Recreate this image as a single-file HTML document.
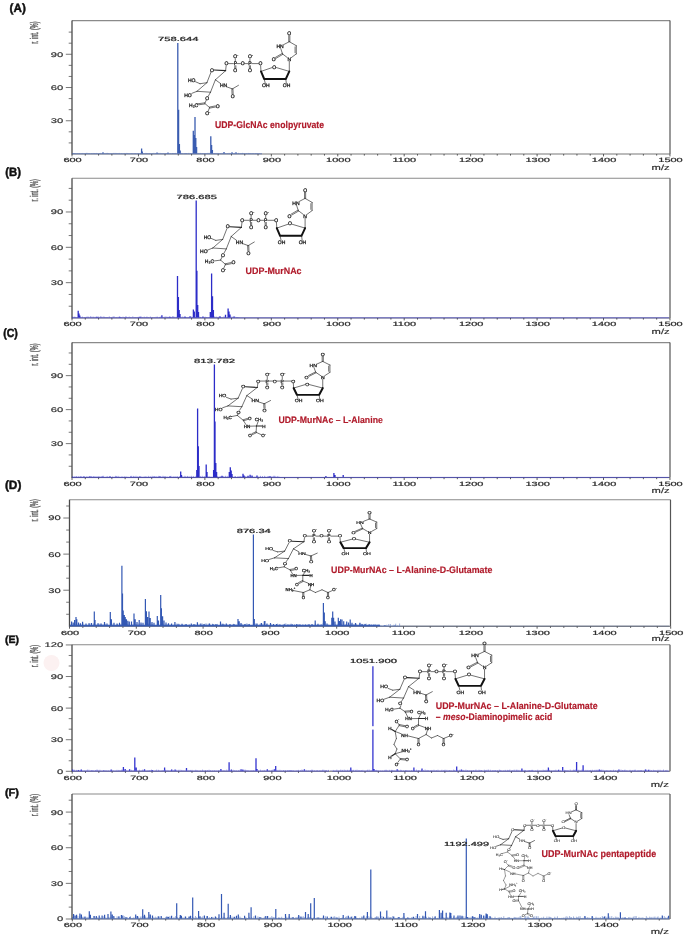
<!DOCTYPE html><html><head><meta charset="utf-8"><style>html,body{margin:0;padding:0;background:#fff;overflow:hidden;}svg{display:block;will-change:transform;}</style></head><body>
<svg width="685" height="937" viewBox="0 0 685 937" text-rendering="geometricPrecision" font-family='"Liberation Sans", sans-serif'>
<rect width="685" height="937" fill="#fff"/>
<circle cx="51.5" cy="663" r="8" fill="#fcf1f1"/>
<path d="M72.0 20.6 H670.0" fill="none" stroke="#8a8a8a" stroke-width="1.1"/>
<path d="M670.0 20.6 V154.0" fill="none" stroke="#555" stroke-width="1.2"/>
<path d="M72.0 20.6 V154.5" fill="none" stroke="#4a4a4a" stroke-width="1.3"/>
<path d="M72.0 154.0 H670.0" fill="none" stroke="#707070" stroke-width="0.95"/>
<path d="M68.7 142.92H72.0M68.7 131.84H72.0M65.8 120.76H72.0M68.7 109.68H72.0M68.7 98.60H72.0M65.8 87.52H72.0M68.7 76.44H72.0M68.7 65.36H72.0M65.8 54.28H72.0M68.7 43.20H72.0M68.7 32.12H72.0" stroke="#555" stroke-width="0.8" fill="none"/>
<text transform="translate(50.80 123.21) scale(1.1238 0.6700)" font-size="10" fill="#2e2e2e" stroke="#2e2e2e" stroke-width="0.245" stroke-linejoin="round">30</text>
<text transform="translate(50.80 89.97) scale(1.1238 0.6700)" font-size="10" fill="#2e2e2e" stroke="#2e2e2e" stroke-width="0.245" stroke-linejoin="round">60</text>
<text transform="translate(50.80 56.73) scale(1.1238 0.6700)" font-size="10" fill="#2e2e2e" stroke="#2e2e2e" stroke-width="0.245" stroke-linejoin="round">90</text>
<path d="M72.00 154.0V156.4M85.29 154.0V155.6M98.58 154.0V155.6M111.86 154.0V155.6M125.15 154.0V155.6M138.44 154.0V156.4M151.73 154.0V155.6M165.02 154.0V155.6M178.30 154.0V155.6M191.59 154.0V155.6M204.88 154.0V156.4M218.17 154.0V155.6M231.46 154.0V155.6M244.74 154.0V155.6M258.03 154.0V155.6M271.32 154.0V156.4M284.61 154.0V155.6M297.90 154.0V155.6M311.18 154.0V155.6M324.47 154.0V155.6M337.76 154.0V156.4M351.05 154.0V155.6M364.34 154.0V155.6M377.62 154.0V155.6M390.91 154.0V155.6M404.20 154.0V156.4M417.49 154.0V155.6M430.78 154.0V155.6M444.06 154.0V155.6M457.35 154.0V155.6M470.64 154.0V156.4M483.93 154.0V155.6M497.22 154.0V155.6M510.50 154.0V155.6M523.79 154.0V155.6M537.08 154.0V156.4M550.37 154.0V155.6M563.66 154.0V155.6M576.94 154.0V155.6M590.23 154.0V155.6M603.52 154.0V156.4M616.81 154.0V155.6M630.10 154.0V155.6M643.38 154.0V155.6M656.67 154.0V155.6M669.96 154.0V156.4" stroke="#4a4a4a" stroke-width="0.9" fill="none"/>
<text transform="translate(63.40 162.30) scale(1.0968 0.6100)" font-size="10" fill="#2e2e2e" stroke="#2e2e2e" stroke-width="0.352" stroke-linejoin="round">600</text>
<text transform="translate(129.84 162.30) scale(1.0968 0.6100)" font-size="10" fill="#2e2e2e" stroke="#2e2e2e" stroke-width="0.352" stroke-linejoin="round">700</text>
<text transform="translate(196.28 162.30) scale(1.0968 0.6100)" font-size="10" fill="#2e2e2e" stroke="#2e2e2e" stroke-width="0.352" stroke-linejoin="round">800</text>
<text transform="translate(262.72 162.30) scale(1.0968 0.6100)" font-size="10" fill="#2e2e2e" stroke="#2e2e2e" stroke-width="0.352" stroke-linejoin="round">900</text>
<text transform="translate(326.11 162.30) scale(1.0968 0.6100)" font-size="10" fill="#2e2e2e" stroke="#2e2e2e" stroke-width="0.352" stroke-linejoin="round">1000</text>
<text transform="translate(392.55 162.30) scale(1.0968 0.6100)" font-size="10" fill="#2e2e2e" stroke="#2e2e2e" stroke-width="0.352" stroke-linejoin="round">1100</text>
<text transform="translate(458.99 162.30) scale(1.0968 0.6100)" font-size="10" fill="#2e2e2e" stroke="#2e2e2e" stroke-width="0.352" stroke-linejoin="round">1200</text>
<text transform="translate(525.43 162.30) scale(1.0968 0.6100)" font-size="10" fill="#2e2e2e" stroke="#2e2e2e" stroke-width="0.352" stroke-linejoin="round">1300</text>
<text transform="translate(591.87 162.30) scale(1.0968 0.6100)" font-size="10" fill="#2e2e2e" stroke="#2e2e2e" stroke-width="0.352" stroke-linejoin="round">1400</text>
<text transform="translate(658.31 162.30) scale(1.0968 0.6100)" font-size="10" fill="#2e2e2e" stroke="#2e2e2e" stroke-width="0.352" stroke-linejoin="round">1500</text>
<text transform="translate(651.60 170.00) scale(1.1174 0.7600)" font-size="10" fill="#2e2e2e" stroke="#2e2e2e" stroke-width="0.266" stroke-linejoin="round">m/z</text>
<text transform="translate(38.00 43.70) rotate(-90) scale(0.5572 1.1200)" font-size="10" fill="#5a5a5a" stroke="#5a5a5a" stroke-width="0.417" stroke-linejoin="round">r. int. (%)</text>
<text transform="translate(9.60 12.20) scale(1.1742 1.2000)" font-size="10" fill="#111" font-weight="bold" stroke="#111" stroke-width="0.379" stroke-linejoin="round">(A)</text>
<path d="M72.0 178.2 H670.0" fill="none" stroke="#8a8a8a" stroke-width="1.1"/>
<path d="M670.0 178.2 V318.0" fill="none" stroke="#555" stroke-width="1.2"/>
<path d="M72.0 178.2 V318.5" fill="none" stroke="#4a4a4a" stroke-width="1.3"/>
<path d="M72.0 318.0 H670.0" fill="none" stroke="#707070" stroke-width="0.95"/>
<path d="M68.7 306.22H72.0M68.7 294.44H72.0M65.8 282.66H72.0M68.7 270.88H72.0M68.7 259.10H72.0M65.8 247.32H72.0M68.7 235.54H72.0M68.7 223.76H72.0M65.8 211.98H72.0M68.7 200.20H72.0M68.7 188.42H72.0" stroke="#555" stroke-width="0.8" fill="none"/>
<text transform="translate(50.80 285.11) scale(1.1238 0.6700)" font-size="10" fill="#2e2e2e" stroke="#2e2e2e" stroke-width="0.245" stroke-linejoin="round">30</text>
<text transform="translate(50.80 249.77) scale(1.1238 0.6700)" font-size="10" fill="#2e2e2e" stroke="#2e2e2e" stroke-width="0.245" stroke-linejoin="round">60</text>
<text transform="translate(50.80 214.43) scale(1.1238 0.6700)" font-size="10" fill="#2e2e2e" stroke="#2e2e2e" stroke-width="0.245" stroke-linejoin="round">90</text>
<path d="M72.00 318.0V320.4M85.29 318.0V319.6M98.58 318.0V319.6M111.86 318.0V319.6M125.15 318.0V319.6M138.44 318.0V320.4M151.73 318.0V319.6M165.02 318.0V319.6M178.30 318.0V319.6M191.59 318.0V319.6M204.88 318.0V320.4M218.17 318.0V319.6M231.46 318.0V319.6M244.74 318.0V319.6M258.03 318.0V319.6M271.32 318.0V320.4M284.61 318.0V319.6M297.90 318.0V319.6M311.18 318.0V319.6M324.47 318.0V319.6M337.76 318.0V320.4M351.05 318.0V319.6M364.34 318.0V319.6M377.62 318.0V319.6M390.91 318.0V319.6M404.20 318.0V320.4M417.49 318.0V319.6M430.78 318.0V319.6M444.06 318.0V319.6M457.35 318.0V319.6M470.64 318.0V320.4M483.93 318.0V319.6M497.22 318.0V319.6M510.50 318.0V319.6M523.79 318.0V319.6M537.08 318.0V320.4M550.37 318.0V319.6M563.66 318.0V319.6M576.94 318.0V319.6M590.23 318.0V319.6M603.52 318.0V320.4M616.81 318.0V319.6M630.10 318.0V319.6M643.38 318.0V319.6M656.67 318.0V319.6M669.96 318.0V320.4" stroke="#4a4a4a" stroke-width="0.9" fill="none"/>
<text transform="translate(63.40 326.30) scale(1.0968 0.6100)" font-size="10" fill="#2e2e2e" stroke="#2e2e2e" stroke-width="0.352" stroke-linejoin="round">600</text>
<text transform="translate(129.84 326.30) scale(1.0968 0.6100)" font-size="10" fill="#2e2e2e" stroke="#2e2e2e" stroke-width="0.352" stroke-linejoin="round">700</text>
<text transform="translate(196.28 326.30) scale(1.0968 0.6100)" font-size="10" fill="#2e2e2e" stroke="#2e2e2e" stroke-width="0.352" stroke-linejoin="round">800</text>
<text transform="translate(262.72 326.30) scale(1.0968 0.6100)" font-size="10" fill="#2e2e2e" stroke="#2e2e2e" stroke-width="0.352" stroke-linejoin="round">900</text>
<text transform="translate(326.11 326.30) scale(1.0968 0.6100)" font-size="10" fill="#2e2e2e" stroke="#2e2e2e" stroke-width="0.352" stroke-linejoin="round">1000</text>
<text transform="translate(392.55 326.30) scale(1.0968 0.6100)" font-size="10" fill="#2e2e2e" stroke="#2e2e2e" stroke-width="0.352" stroke-linejoin="round">1100</text>
<text transform="translate(458.99 326.30) scale(1.0968 0.6100)" font-size="10" fill="#2e2e2e" stroke="#2e2e2e" stroke-width="0.352" stroke-linejoin="round">1200</text>
<text transform="translate(525.43 326.30) scale(1.0968 0.6100)" font-size="10" fill="#2e2e2e" stroke="#2e2e2e" stroke-width="0.352" stroke-linejoin="round">1300</text>
<text transform="translate(591.87 326.30) scale(1.0968 0.6100)" font-size="10" fill="#2e2e2e" stroke="#2e2e2e" stroke-width="0.352" stroke-linejoin="round">1400</text>
<text transform="translate(658.31 326.30) scale(1.0968 0.6100)" font-size="10" fill="#2e2e2e" stroke="#2e2e2e" stroke-width="0.352" stroke-linejoin="round">1500</text>
<text transform="translate(651.60 334.00) scale(1.1174 0.7600)" font-size="10" fill="#2e2e2e" stroke="#2e2e2e" stroke-width="0.266" stroke-linejoin="round">m/z</text>
<text transform="translate(38.00 201.40) rotate(-90) scale(0.5572 1.1200)" font-size="10" fill="#5a5a5a" stroke="#5a5a5a" stroke-width="0.417" stroke-linejoin="round">r. int. (%)</text>
<text transform="translate(5.30 175.80) scale(1.1310 1.2000)" font-size="10" fill="#111" font-weight="bold" stroke="#111" stroke-width="0.386" stroke-linejoin="round">(B)</text>
<path d="M72.0 342.6 H670.0" fill="none" stroke="#8a8a8a" stroke-width="1.1"/>
<path d="M670.0 342.6 V477.6" fill="none" stroke="#555" stroke-width="1.2"/>
<path d="M72.0 342.6 V478.1" fill="none" stroke="#4a4a4a" stroke-width="1.3"/>
<path d="M72.0 477.6 H670.0" fill="none" stroke="#707070" stroke-width="0.95"/>
<path d="M68.7 466.27H72.0M68.7 454.94H72.0M65.8 443.61H72.0M68.7 432.28H72.0M68.7 420.95H72.0M65.8 409.62H72.0M68.7 398.29H72.0M68.7 386.96H72.0M65.8 375.63H72.0M68.7 364.30H72.0M68.7 352.97H72.0" stroke="#555" stroke-width="0.8" fill="none"/>
<text transform="translate(50.80 446.06) scale(1.1238 0.6700)" font-size="10" fill="#2e2e2e" stroke="#2e2e2e" stroke-width="0.245" stroke-linejoin="round">30</text>
<text transform="translate(50.80 412.07) scale(1.1238 0.6700)" font-size="10" fill="#2e2e2e" stroke="#2e2e2e" stroke-width="0.245" stroke-linejoin="round">60</text>
<text transform="translate(50.80 378.08) scale(1.1238 0.6700)" font-size="10" fill="#2e2e2e" stroke="#2e2e2e" stroke-width="0.245" stroke-linejoin="round">90</text>
<path d="M72.00 477.6V480.0M85.29 477.6V479.2M98.58 477.6V479.2M111.86 477.6V479.2M125.15 477.6V479.2M138.44 477.6V480.0M151.73 477.6V479.2M165.02 477.6V479.2M178.30 477.6V479.2M191.59 477.6V479.2M204.88 477.6V480.0M218.17 477.6V479.2M231.46 477.6V479.2M244.74 477.6V479.2M258.03 477.6V479.2M271.32 477.6V480.0M284.61 477.6V479.2M297.90 477.6V479.2M311.18 477.6V479.2M324.47 477.6V479.2M337.76 477.6V480.0M351.05 477.6V479.2M364.34 477.6V479.2M377.62 477.6V479.2M390.91 477.6V479.2M404.20 477.6V480.0M417.49 477.6V479.2M430.78 477.6V479.2M444.06 477.6V479.2M457.35 477.6V479.2M470.64 477.6V480.0M483.93 477.6V479.2M497.22 477.6V479.2M510.50 477.6V479.2M523.79 477.6V479.2M537.08 477.6V480.0M550.37 477.6V479.2M563.66 477.6V479.2M576.94 477.6V479.2M590.23 477.6V479.2M603.52 477.6V480.0M616.81 477.6V479.2M630.10 477.6V479.2M643.38 477.6V479.2M656.67 477.6V479.2M669.96 477.6V480.0" stroke="#4a4a4a" stroke-width="0.9" fill="none"/>
<text transform="translate(63.40 485.90) scale(1.0968 0.6100)" font-size="10" fill="#2e2e2e" stroke="#2e2e2e" stroke-width="0.352" stroke-linejoin="round">600</text>
<text transform="translate(129.84 485.90) scale(1.0968 0.6100)" font-size="10" fill="#2e2e2e" stroke="#2e2e2e" stroke-width="0.352" stroke-linejoin="round">700</text>
<text transform="translate(196.28 485.90) scale(1.0968 0.6100)" font-size="10" fill="#2e2e2e" stroke="#2e2e2e" stroke-width="0.352" stroke-linejoin="round">800</text>
<text transform="translate(262.72 485.90) scale(1.0968 0.6100)" font-size="10" fill="#2e2e2e" stroke="#2e2e2e" stroke-width="0.352" stroke-linejoin="round">900</text>
<text transform="translate(326.11 485.90) scale(1.0968 0.6100)" font-size="10" fill="#2e2e2e" stroke="#2e2e2e" stroke-width="0.352" stroke-linejoin="round">1000</text>
<text transform="translate(392.55 485.90) scale(1.0968 0.6100)" font-size="10" fill="#2e2e2e" stroke="#2e2e2e" stroke-width="0.352" stroke-linejoin="round">1100</text>
<text transform="translate(458.99 485.90) scale(1.0968 0.6100)" font-size="10" fill="#2e2e2e" stroke="#2e2e2e" stroke-width="0.352" stroke-linejoin="round">1200</text>
<text transform="translate(525.43 485.90) scale(1.0968 0.6100)" font-size="10" fill="#2e2e2e" stroke="#2e2e2e" stroke-width="0.352" stroke-linejoin="round">1300</text>
<text transform="translate(591.87 485.90) scale(1.0968 0.6100)" font-size="10" fill="#2e2e2e" stroke="#2e2e2e" stroke-width="0.352" stroke-linejoin="round">1400</text>
<text transform="translate(658.31 485.90) scale(1.0968 0.6100)" font-size="10" fill="#2e2e2e" stroke="#2e2e2e" stroke-width="0.352" stroke-linejoin="round">1500</text>
<text transform="translate(651.60 493.00) scale(1.1174 0.7600)" font-size="10" fill="#2e2e2e" stroke="#2e2e2e" stroke-width="0.266" stroke-linejoin="round">m/z</text>
<text transform="translate(38.00 365.80) rotate(-90) scale(0.5572 1.1200)" font-size="10" fill="#5a5a5a" stroke="#5a5a5a" stroke-width="0.417" stroke-linejoin="round">r. int. (%)</text>
<text transform="translate(3.20 337.00) scale(1.0589 1.2000)" font-size="10" fill="#111" font-weight="bold" stroke="#111" stroke-width="0.398" stroke-linejoin="round">(C)</text>
<path d="M69.5 499.7 H670.5" fill="none" stroke="#8a8a8a" stroke-width="1.1"/>
<path d="M670.5 499.7 V626.3" fill="none" stroke="#555" stroke-width="1.2"/>
<path d="M69.5 499.7 V626.8" fill="none" stroke="#4a4a4a" stroke-width="1.3"/>
<path d="M69.5 626.3 H670.5" fill="none" stroke="#707070" stroke-width="0.95"/>
<path d="M66.2 614.27H69.5M66.2 602.24H69.5M63.3 590.21H69.5M66.2 578.18H69.5M66.2 566.15H69.5M63.3 554.12H69.5M66.2 542.09H69.5M66.2 530.06H69.5M63.3 518.03H69.5M66.2 506.00H69.5" stroke="#555" stroke-width="0.8" fill="none"/>
<text transform="translate(48.30 592.66) scale(1.1238 0.6700)" font-size="10" fill="#2e2e2e" stroke="#2e2e2e" stroke-width="0.245" stroke-linejoin="round">30</text>
<text transform="translate(48.30 556.57) scale(1.1238 0.6700)" font-size="10" fill="#2e2e2e" stroke="#2e2e2e" stroke-width="0.245" stroke-linejoin="round">60</text>
<text transform="translate(48.30 520.48) scale(1.1238 0.6700)" font-size="10" fill="#2e2e2e" stroke="#2e2e2e" stroke-width="0.245" stroke-linejoin="round">90</text>
<path d="M69.50 626.3V628.7M82.86 626.3V627.9M96.22 626.3V627.9M109.58 626.3V627.9M122.94 626.3V627.9M136.30 626.3V628.7M149.66 626.3V627.9M163.02 626.3V627.9M176.38 626.3V627.9M189.74 626.3V627.9M203.10 626.3V628.7M216.46 626.3V627.9M229.82 626.3V627.9M243.18 626.3V627.9M256.54 626.3V627.9M269.90 626.3V628.7M283.26 626.3V627.9M296.62 626.3V627.9M309.98 626.3V627.9M323.34 626.3V627.9M336.70 626.3V628.7M350.06 626.3V627.9M363.42 626.3V627.9M376.78 626.3V627.9M390.14 626.3V627.9M403.50 626.3V628.7M416.86 626.3V627.9M430.22 626.3V627.9M443.58 626.3V627.9M456.94 626.3V627.9M470.30 626.3V628.7M483.66 626.3V627.9M497.02 626.3V627.9M510.38 626.3V627.9M523.74 626.3V627.9M537.10 626.3V628.7M550.46 626.3V627.9M563.82 626.3V627.9M577.18 626.3V627.9M590.54 626.3V627.9M603.90 626.3V628.7M617.26 626.3V627.9M630.62 626.3V627.9M643.98 626.3V627.9M657.34 626.3V627.9M670.70 626.3V628.7" stroke="#4a4a4a" stroke-width="0.9" fill="none"/>
<text transform="translate(60.90 634.60) scale(1.0968 0.6100)" font-size="10" fill="#2e2e2e" stroke="#2e2e2e" stroke-width="0.352" stroke-linejoin="round">600</text>
<text transform="translate(127.70 634.60) scale(1.0968 0.6100)" font-size="10" fill="#2e2e2e" stroke="#2e2e2e" stroke-width="0.352" stroke-linejoin="round">700</text>
<text transform="translate(194.50 634.60) scale(1.0968 0.6100)" font-size="10" fill="#2e2e2e" stroke="#2e2e2e" stroke-width="0.352" stroke-linejoin="round">800</text>
<text transform="translate(261.30 634.60) scale(1.0968 0.6100)" font-size="10" fill="#2e2e2e" stroke="#2e2e2e" stroke-width="0.352" stroke-linejoin="round">900</text>
<text transform="translate(325.05 634.60) scale(1.0968 0.6100)" font-size="10" fill="#2e2e2e" stroke="#2e2e2e" stroke-width="0.352" stroke-linejoin="round">1000</text>
<text transform="translate(391.85 634.60) scale(1.0968 0.6100)" font-size="10" fill="#2e2e2e" stroke="#2e2e2e" stroke-width="0.352" stroke-linejoin="round">1100</text>
<text transform="translate(458.65 634.60) scale(1.0968 0.6100)" font-size="10" fill="#2e2e2e" stroke="#2e2e2e" stroke-width="0.352" stroke-linejoin="round">1200</text>
<text transform="translate(525.45 634.60) scale(1.0968 0.6100)" font-size="10" fill="#2e2e2e" stroke="#2e2e2e" stroke-width="0.352" stroke-linejoin="round">1300</text>
<text transform="translate(592.25 634.60) scale(1.0968 0.6100)" font-size="10" fill="#2e2e2e" stroke="#2e2e2e" stroke-width="0.352" stroke-linejoin="round">1400</text>
<text transform="translate(659.05 634.60) scale(1.0968 0.6100)" font-size="10" fill="#2e2e2e" stroke="#2e2e2e" stroke-width="0.352" stroke-linejoin="round">1500</text>
<text transform="translate(651.60 641.00) scale(1.1174 0.7600)" font-size="10" fill="#2e2e2e" stroke="#2e2e2e" stroke-width="0.266" stroke-linejoin="round">m/z</text>
<text transform="translate(38.00 521.50) rotate(-90) scale(0.5572 1.1200)" font-size="10" fill="#5a5a5a" stroke="#5a5a5a" stroke-width="0.417" stroke-linejoin="round">r. int. (%)</text>
<text transform="translate(4.90 489.40) scale(1.1886 1.2000)" font-size="10" fill="#111" font-weight="bold" stroke="#111" stroke-width="0.377" stroke-linejoin="round">(D)</text>
<path d="M72.0 644.8 H670.0" fill="none" stroke="#8a8a8a" stroke-width="1.1"/>
<path d="M670.0 644.8 V771.3" fill="none" stroke="#555" stroke-width="1.2"/>
<path d="M72.0 644.8 V771.8" fill="none" stroke="#4a4a4a" stroke-width="1.3"/>
<path d="M72.0 771.3 H670.0" fill="none" stroke="#707070" stroke-width="0.95"/>
<path d="M65.8 771.30H72.0M68.7 760.77H72.0M68.7 750.24H72.0M65.8 739.71H72.0M68.7 729.18H72.0M68.7 718.65H72.0M65.8 708.12H72.0M68.7 697.59H72.0M68.7 687.06H72.0M65.8 676.53H72.0M68.7 666.00H72.0M68.7 655.47H72.0M65.8 644.94H72.0" stroke="#555" stroke-width="0.8" fill="none"/>
<text transform="translate(57.05 773.75) scale(1.1238 0.6700)" font-size="10" fill="#2e2e2e" stroke="#2e2e2e" stroke-width="0.245" stroke-linejoin="round">0</text>
<text transform="translate(50.80 742.16) scale(1.1238 0.6700)" font-size="10" fill="#2e2e2e" stroke="#2e2e2e" stroke-width="0.245" stroke-linejoin="round">30</text>
<text transform="translate(50.80 710.57) scale(1.1238 0.6700)" font-size="10" fill="#2e2e2e" stroke="#2e2e2e" stroke-width="0.245" stroke-linejoin="round">60</text>
<text transform="translate(50.80 678.98) scale(1.1238 0.6700)" font-size="10" fill="#2e2e2e" stroke="#2e2e2e" stroke-width="0.245" stroke-linejoin="round">90</text>
<text transform="translate(44.55 647.39) scale(1.1238 0.6700)" font-size="10" fill="#2e2e2e" stroke="#2e2e2e" stroke-width="0.245" stroke-linejoin="round">120</text>
<path d="M72.20 771.3V773.7M85.51 771.3V772.9M98.82 771.3V772.9M112.13 771.3V772.9M125.44 771.3V772.9M138.75 771.3V773.7M152.06 771.3V772.9M165.37 771.3V772.9M178.68 771.3V772.9M191.99 771.3V772.9M205.30 771.3V773.7M218.61 771.3V772.9M231.92 771.3V772.9M245.23 771.3V772.9M258.54 771.3V772.9M271.85 771.3V773.7M285.16 771.3V772.9M298.47 771.3V772.9M311.78 771.3V772.9M325.09 771.3V772.9M338.40 771.3V773.7M351.71 771.3V772.9M365.02 771.3V772.9M378.33 771.3V772.9M391.64 771.3V772.9M404.95 771.3V773.7M418.26 771.3V772.9M431.57 771.3V772.9M444.88 771.3V772.9M458.19 771.3V772.9M471.50 771.3V773.7M484.81 771.3V772.9M498.12 771.3V772.9M511.43 771.3V772.9M524.74 771.3V772.9M538.05 771.3V773.7M551.36 771.3V772.9M564.67 771.3V772.9M577.98 771.3V772.9M591.29 771.3V772.9M604.60 771.3V773.7M617.91 771.3V772.9M631.22 771.3V772.9M644.53 771.3V772.9M657.84 771.3V772.9" stroke="#4a4a4a" stroke-width="0.9" fill="none"/>
<text transform="translate(63.60 779.60) scale(1.0968 0.6100)" font-size="10" fill="#2e2e2e" stroke="#2e2e2e" stroke-width="0.352" stroke-linejoin="round">600</text>
<text transform="translate(130.15 779.60) scale(1.0968 0.6100)" font-size="10" fill="#2e2e2e" stroke="#2e2e2e" stroke-width="0.352" stroke-linejoin="round">700</text>
<text transform="translate(196.70 779.60) scale(1.0968 0.6100)" font-size="10" fill="#2e2e2e" stroke="#2e2e2e" stroke-width="0.352" stroke-linejoin="round">800</text>
<text transform="translate(263.25 779.60) scale(1.0968 0.6100)" font-size="10" fill="#2e2e2e" stroke="#2e2e2e" stroke-width="0.352" stroke-linejoin="round">900</text>
<text transform="translate(326.75 779.60) scale(1.0968 0.6100)" font-size="10" fill="#2e2e2e" stroke="#2e2e2e" stroke-width="0.352" stroke-linejoin="round">1000</text>
<text transform="translate(393.30 779.60) scale(1.0968 0.6100)" font-size="10" fill="#2e2e2e" stroke="#2e2e2e" stroke-width="0.352" stroke-linejoin="round">1100</text>
<text transform="translate(459.85 779.60) scale(1.0968 0.6100)" font-size="10" fill="#2e2e2e" stroke="#2e2e2e" stroke-width="0.352" stroke-linejoin="round">1200</text>
<text transform="translate(526.40 779.60) scale(1.0968 0.6100)" font-size="10" fill="#2e2e2e" stroke="#2e2e2e" stroke-width="0.352" stroke-linejoin="round">1300</text>
<text transform="translate(592.95 779.60) scale(1.0968 0.6100)" font-size="10" fill="#2e2e2e" stroke="#2e2e2e" stroke-width="0.352" stroke-linejoin="round">1400</text>
<text transform="translate(650.80 786.50) scale(1.1174 0.7600)" font-size="10" fill="#2e2e2e" stroke="#2e2e2e" stroke-width="0.266" stroke-linejoin="round">m/z</text>
<text transform="translate(38.00 667.20) rotate(-90) scale(0.5572 1.1200)" font-size="10" fill="#5a5a5a" stroke="#5a5a5a" stroke-width="0.417" stroke-linejoin="round">r. int. (%)</text>
<text transform="translate(4.90 642.90) scale(1.0503 1.0400)" font-size="10" fill="#111" font-weight="bold" stroke="#111" stroke-width="0.431" stroke-linejoin="round">(E)</text>
<path d="M72.0 794.0 H670.0" fill="none" stroke="#8a8a8a" stroke-width="1.1"/>
<path d="M670.0 794.0 V919.0" fill="none" stroke="#555" stroke-width="1.2"/>
<path d="M72.0 794.0 V919.5" fill="none" stroke="#4a4a4a" stroke-width="1.3"/>
<path d="M72.0 919.0 H670.0" fill="none" stroke="#707070" stroke-width="0.95"/>
<path d="M65.8 919.00H72.0M68.7 907.12H72.0M68.7 895.24H72.0M65.8 883.36H72.0M68.7 871.48H72.0M68.7 859.60H72.0M65.8 847.72H72.0M68.7 835.84H72.0M68.7 823.96H72.0M65.8 812.08H72.0M68.7 800.20H72.0" stroke="#555" stroke-width="0.8" fill="none"/>
<text transform="translate(57.05 921.45) scale(1.1238 0.6700)" font-size="10" fill="#2e2e2e" stroke="#2e2e2e" stroke-width="0.245" stroke-linejoin="round">0</text>
<text transform="translate(50.80 885.81) scale(1.1238 0.6700)" font-size="10" fill="#2e2e2e" stroke="#2e2e2e" stroke-width="0.245" stroke-linejoin="round">30</text>
<text transform="translate(50.80 850.17) scale(1.1238 0.6700)" font-size="10" fill="#2e2e2e" stroke="#2e2e2e" stroke-width="0.245" stroke-linejoin="round">60</text>
<text transform="translate(50.80 814.53) scale(1.1238 0.6700)" font-size="10" fill="#2e2e2e" stroke="#2e2e2e" stroke-width="0.245" stroke-linejoin="round">90</text>
<path d="M72.30 919.0V921.4M85.64 919.0V920.6M98.98 919.0V920.6M112.32 919.0V920.6M125.66 919.0V920.6M139.00 919.0V921.4M152.34 919.0V920.6M165.68 919.0V920.6M179.02 919.0V920.6M192.36 919.0V920.6M205.70 919.0V921.4M219.04 919.0V920.6M232.38 919.0V920.6M245.72 919.0V920.6M259.06 919.0V920.6M272.40 919.0V921.4M285.74 919.0V920.6M299.08 919.0V920.6M312.42 919.0V920.6M325.76 919.0V920.6M339.10 919.0V921.4M352.44 919.0V920.6M365.78 919.0V920.6M379.12 919.0V920.6M392.46 919.0V920.6M405.80 919.0V921.4M419.14 919.0V920.6M432.48 919.0V920.6M445.82 919.0V920.6M459.16 919.0V920.6M472.50 919.0V921.4M485.84 919.0V920.6M499.18 919.0V920.6M512.52 919.0V920.6M525.86 919.0V920.6M539.20 919.0V921.4M552.54 919.0V920.6M565.88 919.0V920.6M579.22 919.0V920.6M592.56 919.0V920.6M605.90 919.0V921.4M619.24 919.0V920.6M632.58 919.0V920.6M645.92 919.0V920.6M659.26 919.0V920.6" stroke="#4a4a4a" stroke-width="0.9" fill="none"/>
<text transform="translate(63.70 927.30) scale(1.0968 0.6100)" font-size="10" fill="#2e2e2e" stroke="#2e2e2e" stroke-width="0.352" stroke-linejoin="round">600</text>
<text transform="translate(130.40 927.30) scale(1.0968 0.6100)" font-size="10" fill="#2e2e2e" stroke="#2e2e2e" stroke-width="0.352" stroke-linejoin="round">700</text>
<text transform="translate(197.10 927.30) scale(1.0968 0.6100)" font-size="10" fill="#2e2e2e" stroke="#2e2e2e" stroke-width="0.352" stroke-linejoin="round">800</text>
<text transform="translate(263.80 927.30) scale(1.0968 0.6100)" font-size="10" fill="#2e2e2e" stroke="#2e2e2e" stroke-width="0.352" stroke-linejoin="round">900</text>
<text transform="translate(327.45 927.30) scale(1.0968 0.6100)" font-size="10" fill="#2e2e2e" stroke="#2e2e2e" stroke-width="0.352" stroke-linejoin="round">1000</text>
<text transform="translate(394.15 927.30) scale(1.0968 0.6100)" font-size="10" fill="#2e2e2e" stroke="#2e2e2e" stroke-width="0.352" stroke-linejoin="round">1100</text>
<text transform="translate(460.85 927.30) scale(1.0968 0.6100)" font-size="10" fill="#2e2e2e" stroke="#2e2e2e" stroke-width="0.352" stroke-linejoin="round">1200</text>
<text transform="translate(527.55 927.30) scale(1.0968 0.6100)" font-size="10" fill="#2e2e2e" stroke="#2e2e2e" stroke-width="0.352" stroke-linejoin="round">1300</text>
<text transform="translate(594.25 927.30) scale(1.0968 0.6100)" font-size="10" fill="#2e2e2e" stroke="#2e2e2e" stroke-width="0.352" stroke-linejoin="round">1400</text>
<text transform="translate(650.80 934.00) scale(1.1174 0.7600)" font-size="10" fill="#2e2e2e" stroke="#2e2e2e" stroke-width="0.266" stroke-linejoin="round">m/z</text>
<text transform="translate(38.00 816.30) rotate(-90) scale(0.5572 1.1200)" font-size="10" fill="#5a5a5a" stroke="#5a5a5a" stroke-width="0.417" stroke-linejoin="round">r. int. (%)</text>
<text transform="translate(4.90 795.60) scale(1.0964 1.0600)" font-size="10" fill="#111" font-weight="bold" stroke="#111" stroke-width="0.417" stroke-linejoin="round">(F)</text>
<path d="M72.0 153.80H262.0" stroke="#3a5cb0" stroke-width="1.0" fill="none" opacity="0.6"/>
<path d="M103.00 153.50V152.30M141.60 153.50V148.60M142.30 153.50V151.50M157.00 153.50V152.40M168.00 153.50V152.40M177.80 153.50V43.10M178.60 153.50V109.70M179.40 153.50V143.90M180.20 153.50V150.50M193.30 153.50V130.70M194.20 153.50V135.00M195.00 153.50V117.00M195.80 153.50V138.00M196.60 153.50V147.00M210.80 153.50V136.20M211.60 153.50V145.00M212.40 153.50V150.00M224.00 153.50V152.00M232.00 153.50V152.30M236.00 153.50V152.20" stroke="#3a5cb0" stroke-width="1.30" fill="none"/>
<path d="M72.50 153.50V153.09M73.58 153.50V152.97M74.57 153.50V153.01M75.91 153.50V153.18M77.42 153.50V153.19M78.84 153.50V153.18M79.84 153.50V153.05M81.74 153.50V153.16M82.91 153.50V152.98M84.94 153.50V153.00M86.32 153.50V152.86M87.27 153.50V152.90M88.52 153.50V153.15M89.56 153.50V153.09M91.44 153.50V153.14M93.04 153.50V152.98M94.39 153.50V153.01M95.36 153.50V153.18M96.51 153.50V152.96M97.92 153.50V153.09M99.53 153.50V153.04M100.79 153.50V152.92M102.52 153.50V153.11M104.11 153.50V153.02M106.06 153.50V152.94M107.31 153.50V152.86M108.35 153.50V153.05M110.16 153.50V153.15M111.65 153.50V153.19M113.35 153.50V152.93M114.94 153.50V152.89M116.21 153.50V152.96M117.83 153.50V153.00M119.27 153.50V152.91M121.31 153.50V153.03M123.00 153.50V153.18M124.75 153.50V152.97M126.84 153.50V152.91M128.08 153.50V153.06M129.78 153.50V153.19M131.23 153.50V153.14M132.28 153.50V153.18M134.10 153.50V153.15M135.29 153.50V153.06M137.24 153.50V153.17M138.68 153.50V153.01M140.64 153.50V152.91M142.58 153.50V153.10M143.97 153.50V153.07M145.94 153.50V152.86M147.02 153.50V153.14M148.19 153.50V153.12M149.68 153.50V152.99M150.89 153.50V153.20M152.29 153.50V153.07M153.87 153.50V152.87M155.60 153.50V153.02M157.24 153.50V152.96M158.21 153.50V152.89M160.04 153.50V152.89M161.90 153.50V153.06M163.28 153.50V153.16M164.94 153.50V153.18M165.92 153.50V153.13M167.02 153.50V153.08M167.98 153.50V153.20M169.06 153.50V153.16M170.40 153.50V153.19M172.35 153.50V152.99M173.43 153.50V153.11M174.74 153.50V153.07M175.79 153.50V152.90M177.88 153.50V153.04M179.36 153.50V153.17M180.39 153.50V153.08M181.60 153.50V152.91M182.70 153.50V153.19M184.74 153.50V153.02M185.81 153.50V153.01M186.75 153.50V153.02M188.82 153.50V152.90M190.56 153.50V153.11M191.90 153.50V153.14M193.72 153.50V153.01M195.56 153.50V153.08M196.72 153.50V152.92M198.81 153.50V152.90M200.67 153.50V152.91M202.46 153.50V153.12M203.98 153.50V153.08M204.92 153.50V153.19M206.15 153.50V153.11M207.88 153.50V152.87M209.32 153.50V152.87M211.41 153.50V152.87M212.74 153.50V153.12M213.92 153.50V153.13M215.06 153.50V152.98M217.04 153.50V152.91M218.52 153.50V152.97M220.38 153.50V153.17M222.07 153.50V152.88M223.91 153.50V152.94M225.38 153.50V153.14M227.23 153.50V153.08M229.09 153.50V152.86M230.46 153.50V153.06M232.50 153.50V152.95M233.61 153.50V153.16M234.69 153.50V152.88M236.55 153.50V153.15M238.45 153.50V152.86M240.13 153.50V153.08M241.69 153.50V153.15M242.61 153.50V152.86M244.29 153.50V153.02M246.31 153.50V153.05M248.26 153.50V152.91M249.41 153.50V153.11M250.66 153.50V153.12M252.26 153.50V153.11M253.67 153.50V153.15M255.66 153.50V153.08M257.11 153.50V153.00M259.09 153.50V153.05" stroke="#3a5cb0" stroke-width="0.6" fill="none" opacity="0.8"/>
<path d="M72.0 317.80H669.0" stroke="#2c2cc8" stroke-width="1.0" fill="none" opacity="0.6"/>
<path d="M78.20 317.50V310.80M79.00 317.50V313.50M79.80 317.50V315.50M97.00 317.50V316.80M120.00 317.50V316.90M140.00 317.50V316.80M161.90 317.50V315.30M170.00 317.50V316.80M177.50 317.50V276.10M178.40 317.50V297.00M179.20 317.50V310.00M180.00 317.50V314.00M185.00 317.50V316.60M190.00 317.50V316.30M193.40 317.50V309.40M194.30 317.50V311.50M196.20 317.50V200.40M196.90 317.50V270.80M197.70 317.50V305.00M198.50 317.50V312.00M203.00 317.50V316.40M210.30 317.50V312.00M211.60 317.50V273.50M212.50 317.50V296.20M213.40 317.50V310.00M220.00 317.50V316.50M225.50 317.50V314.80M228.10 317.50V308.50M229.00 317.50V311.50M230.00 317.50V314.50M234.00 317.50V316.50" stroke="#2c2cc8" stroke-width="1.30" fill="none"/>
<path d="M72.50 317.50V316.70M74.04 317.50V316.68M74.96 317.50V316.76M76.08 317.50V317.20M77.94 317.50V317.03M79.41 317.50V316.47M80.98 317.50V316.87M82.50 317.50V316.64M84.34 317.50V317.09M85.91 317.50V316.95M87.14 317.50V316.43M88.65 317.50V316.64M90.46 317.50V316.29M91.90 317.50V316.59M93.40 317.50V316.69M95.13 317.50V316.75M96.67 317.50V316.72M98.70 317.50V316.50M100.66 317.50V316.26M101.87 317.50V316.64M103.90 317.50V316.36M104.96 317.50V317.08M106.39 317.50V317.13M107.58 317.50V317.13M109.29 317.50V316.42M111.26 317.50V317.05M113.02 317.50V316.54M114.09 317.50V316.32M116.15 317.50V316.98M118.20 317.50V316.80M119.68 317.50V316.21M121.58 317.50V317.04M123.00 317.50V316.68M124.31 317.50V317.00M125.59 317.50V316.48M126.51 317.50V316.65M127.94 317.50V317.18M129.24 317.50V316.58M130.75 317.50V317.14M132.84 317.50V316.41M134.90 317.50V317.10M136.12 317.50V317.16M137.95 317.50V316.93M139.01 317.50V316.78M141.00 317.50V316.38M142.21 317.50V317.05M144.22 317.50V316.63M145.96 317.50V317.11M146.93 317.50V316.51M148.34 317.50V317.13M150.36 317.50V316.57M152.22 317.50V317.12M154.15 317.50V317.13M156.09 317.50V316.75M157.39 317.50V316.65M159.41 317.50V316.93M160.46 317.50V316.67M161.65 317.50V317.09M162.74 317.50V317.15M163.88 317.50V316.89M165.15 317.50V316.44M166.40 317.50V316.70M167.51 317.50V316.85M168.43 317.50V316.95M169.35 317.50V316.47M170.91 317.50V317.01M172.38 317.50V316.27M173.41 317.50V316.38M174.83 317.50V316.70M176.73 317.50V316.81M178.24 317.50V316.51M180.32 317.50V316.86M182.22 317.50V316.49M183.88 317.50V316.80M185.20 317.50V317.15M186.25 317.50V317.13M188.04 317.50V316.94M189.14 317.50V317.12M191.05 317.50V316.33M192.75 317.50V316.92M193.94 317.50V316.91M195.39 317.50V317.04M196.83 317.50V316.94M198.88 317.50V316.23M200.44 317.50V316.96M202.50 317.50V316.89M203.83 317.50V317.20M205.18 317.50V316.73M206.69 317.50V317.00M208.19 317.50V317.20M209.41 317.50V317.11M210.79 317.50V317.16M211.72 317.50V316.90M212.90 317.50V316.61M214.43 317.50V316.45M216.12 317.50V316.48M218.07 317.50V316.81M219.37 317.50V316.22M220.44 317.50V316.48M222.12 317.50V317.16M224.02 317.50V316.31M225.67 317.50V316.47M227.55 317.50V317.06M229.07 317.50V316.70M230.98 317.50V316.40M232.87 317.50V316.62M234.84 317.50V316.52M236.57 317.50V316.97M237.51 317.50V317.07M238.84 317.50V317.10" stroke="#2c2cc8" stroke-width="0.6" fill="none" opacity="0.8"/>
<path d="M72.0 477.40H669.0" stroke="#2c2cc8" stroke-width="1.0" fill="none" opacity="0.6"/>
<path d="M90.00 477.10V476.50M110.00 477.10V476.60M140.00 477.10V476.40M160.00 477.10V476.50M170.00 477.10V476.40M180.70 477.10V471.50M181.50 477.10V475.00M196.80 477.10V470.00M197.60 477.10V408.40M198.30 477.10V446.20M199.00 477.10V466.00M206.20 477.10V464.60M207.00 477.10V472.00M213.60 477.10V470.00M214.40 477.10V364.40M215.00 477.10V421.60M215.80 477.10V463.00M216.60 477.10V472.00M222.00 477.10V475.80M229.30 477.10V472.00M230.30 477.10V467.20M231.20 477.10V470.50M232.00 477.10V474.00M243.00 477.10V473.80M244.00 477.10V475.50M248.00 477.10V475.80M250.10 477.10V474.80M252.00 477.10V475.50M257.00 477.10V475.50M270.00 477.10V476.20M325.90 477.10V476.00M333.90 477.10V473.10M335.00 477.10V475.00M343.20 477.10V475.10" stroke="#2c2cc8" stroke-width="1.30" fill="none"/>
<path d="M72.50 477.10V476.24M74.15 477.10V476.17M75.87 477.10V476.31M76.77 477.10V476.00M78.57 477.10V476.30M80.11 477.10V476.14M81.09 477.10V476.06M82.30 477.10V476.73M83.51 477.10V476.07M84.66 477.10V476.06M86.73 477.10V476.31M88.09 477.10V476.32M89.81 477.10V476.03M91.45 477.10V476.16M92.44 477.10V476.65M93.65 477.10V476.06M94.91 477.10V476.23M95.83 477.10V476.74M97.05 477.10V476.13M98.78 477.10V476.12M100.03 477.10V476.28M101.49 477.10V476.33M102.53 477.10V475.91M103.67 477.10V475.82M105.69 477.10V476.78M107.15 477.10V475.98M109.21 477.10V476.35M110.43 477.10V476.59M112.46 477.10V476.59M114.06 477.10V476.66M115.59 477.10V475.85M116.65 477.10V475.98M118.16 477.10V475.91M119.90 477.10V476.57M121.88 477.10V476.31M122.81 477.10V476.80M124.30 477.10V476.35M125.56 477.10V476.66M126.88 477.10V476.48M128.78 477.10V476.80M130.59 477.10V475.96M131.63 477.10V475.87M133.39 477.10V475.90M134.63 477.10V476.43M136.00 477.10V475.80M137.61 477.10V476.44M139.03 477.10V476.52M139.98 477.10V476.70M141.88 477.10V476.51M143.91 477.10V476.55M145.13 477.10V476.29M146.25 477.10V476.43M148.30 477.10V475.92M150.18 477.10V476.17M152.17 477.10V475.86M153.73 477.10V476.08M154.69 477.10V476.07M156.13 477.10V476.05M157.80 477.10V476.51M158.76 477.10V475.87M159.82 477.10V476.33M161.13 477.10V476.50M162.92 477.10V475.82M164.13 477.10V476.14M165.39 477.10V476.24M166.76 477.10V476.63M167.86 477.10V476.59M169.84 477.10V476.30M171.01 477.10V475.89M173.10 477.10V476.35M174.17 477.10V476.61M175.18 477.10V476.46M176.19 477.10V476.56M177.40 477.10V476.23M179.36 477.10V476.05M180.76 477.10V476.39M182.29 477.10V476.42M183.59 477.10V476.74M184.83 477.10V475.83M185.88 477.10V476.30M187.53 477.10V475.94M188.69 477.10V476.53M189.89 477.10V476.40M191.33 477.10V475.85M193.24 477.10V475.93M194.17 477.10V476.77M195.92 477.10V475.90M197.39 477.10V476.21M198.29 477.10V476.41M200.30 477.10V475.97M202.23 477.10V475.83M203.43 477.10V476.69M204.51 477.10V476.28M206.23 477.10V475.86M208.00 477.10V476.15M209.81 477.10V476.34M211.38 477.10V476.76M213.21 477.10V476.57M215.22 477.10V476.15M216.48 477.10V476.67M217.69 477.10V476.16M219.42 477.10V476.69M220.41 477.10V476.28M222.01 477.10V476.41M223.18 477.10V476.20M224.09 477.10V476.50M225.54 477.10V475.84M227.21 477.10V475.92M228.69 477.10V476.57M229.88 477.10V475.84M231.63 477.10V476.49M232.55 477.10V476.30M234.26 477.10V476.38M235.47 477.10V476.13M237.48 477.10V476.57M238.42 477.10V476.46M239.83 477.10V476.12M240.96 477.10V476.00M242.75 477.10V476.30M243.90 477.10V475.83M245.17 477.10V475.98M246.35 477.10V476.58M248.16 477.10V476.51M250.20 477.10V476.30M251.33 477.10V476.58M252.73 477.10V476.13M254.77 477.10V476.65M256.14 477.10V476.59M258.21 477.10V476.66M259.17 477.10V476.74M260.54 477.10V475.90M262.50 477.10V476.07M264.60 477.10V475.87M265.90 477.10V476.61M267.92 477.10V476.05M268.86 477.10V476.14M270.21 477.10V476.43M271.51 477.10V476.63M272.41 477.10V476.52M273.73 477.10V475.84M274.78 477.10V475.84M275.93 477.10V476.44M277.82 477.10V475.98M279.24 477.10V476.75" stroke="#2c2cc8" stroke-width="0.6" fill="none" opacity="0.8"/>
<path d="M69.5 626.10H400.0" stroke="#3358b4" stroke-width="1.0" fill="none" opacity="0.6"/>
<path d="M70 625.50H380.0" stroke="#3358b4" stroke-width="1.6" fill="none" opacity="0.9"/>
<path d="M400 626.10H669.5" stroke="#4a5a80" stroke-width="0.9" fill="none" opacity="0.7"/>
<path d="M71.60 625.80V621.40M73.20 625.80V622.50M74.60 625.80V619.90M76.00 625.80V617.00M76.80 625.80V619.20M78.50 625.80V622.50M80.50 625.80V623.20M82.60 625.80V621.80M86.00 625.80V623.50M89.00 625.80V623.30M91.50 625.80V623.00M94.30 625.80V611.60M95.00 625.80V619.90M98.00 625.80V623.20M101.00 625.80V623.50M104.50 625.80V622.10M107.00 625.80V623.40M110.30 625.80V611.90M111.40 625.80V619.20M114.00 625.80V622.80M117.00 625.80V623.40M119.50 625.80V622.80M121.90 625.80V565.70M122.50 625.80V593.40M123.20 625.80V610.40M124.30 625.80V615.00M125.20 625.80V617.00M126.40 625.80V619.20M127.80 625.80V620.80M129.30 625.80V621.40M131.50 625.80V621.40M134.00 625.80V613.60M135.20 625.80V619.20M137.00 625.80V621.90M139.20 625.80V619.90M141.00 625.80V622.50M143.00 625.80V622.80M145.40 625.80V599.00M146.40 625.80V611.20M147.60 625.80V617.00M149.00 625.80V611.60M150.20 625.80V618.00M152.00 625.80V622.00M154.00 625.80V622.80M157.30 625.80V616.00M158.50 625.80V620.50M160.70 625.80V595.10M161.40 625.80V608.20M162.60 625.80V616.30M164.00 625.80V620.50M166.00 625.80V622.60M168.50 625.80V623.20M171.60 625.80V623.40M174.90 625.80V621.90M178.00 625.80V623.80M182.00 625.80V623.80M186.00 625.80V624.00M191.30 625.80V623.40M194.00 625.80V624.00M197.40 625.80V622.20M200.80 625.80V623.40M204.00 625.80V624.00M209.50 625.80V623.40M213.00 625.80V624.00M216.00 625.80V624.00M220.50 625.80V621.60M223.00 625.80V623.80M226.30 625.80V623.40M230.00 625.80V624.00M234.00 625.80V624.00M238.00 625.80V619.00M239.20 625.80V621.20M241.00 625.80V623.00M245.00 625.80V624.00M249.00 625.80V624.00M253.40 625.80V534.50M254.30 625.80V619.00M257.00 625.80V623.40M261.40 625.80V623.00M264.30 625.80V621.20M264.90 625.80V620.90M267.00 625.80V623.50M270.50 625.80V623.00M273.50 625.80V624.00M276.60 625.80V623.90M280.00 625.80V624.40M284.50 625.80V624.40M288.00 625.80V624.60M292.00 625.80V624.40M296.80 625.80V623.90M300.00 625.80V624.60M305.50 625.80V624.40M309.00 625.80V624.60M312.00 625.80V624.00M315.20 625.80V620.40M318.00 625.80V623.80M323.40 625.80V602.90M324.30 625.80V612.50M325.20 625.80V621.30M327.00 625.80V623.50M331.80 625.80V617.80M332.70 625.80V611.60M333.60 625.80V617.80M335.00 625.80V621.50M338.30 625.80V617.80M339.40 625.80V621.00M340.60 625.80V619.20M342.00 625.80V619.50M343.70 625.80V621.30M346.70 625.80V621.60M348.50 625.80V622.50M350.20 625.80V619.50M352.00 625.80V622.80M355.50 625.80V623.00M359.90 625.80V622.70M362.00 625.80V624.00M365.10 625.80V623.90M369.00 625.80V624.50M373.90 625.80V624.80M378.00 625.80V625.00M385.00 625.80V625.00M395.00 625.80V625.20" stroke="#3358b4" stroke-width="1.20" fill="none"/>
<path d="M70.50 625.80V624.68M72.50 625.80V625.08M73.84 625.80V623.53M74.78 625.80V624.60M76.65 625.80V623.81M77.60 625.80V625.42M78.57 625.80V623.48M79.78 625.80V623.86M81.76 625.80V624.75M82.99 625.80V623.39M84.63 625.80V624.92M86.39 625.80V624.80M87.62 625.80V625.49M89.43 625.80V623.48M91.09 625.80V623.42M92.02 625.80V624.99M93.49 625.80V623.40M95.53 625.80V624.65M96.73 625.80V624.55M98.22 625.80V623.46M99.34 625.80V623.73M101.13 625.80V623.69M102.96 625.80V624.16M104.25 625.80V624.80M105.59 625.80V623.78M106.58 625.80V625.07M108.38 625.80V624.96M109.36 625.80V625.43M110.92 625.80V624.78M113.00 625.80V623.56M115.09 625.80V624.92M116.09 625.80V625.29M117.58 625.80V623.94M119.02 625.80V624.98M120.42 625.80V624.14M122.13 625.80V623.85M124.05 625.80V624.04M125.09 625.80V623.65M126.34 625.80V624.25M127.69 625.80V623.88M128.83 625.80V624.96M130.03 625.80V625.16M131.99 625.80V624.23M133.28 625.80V624.63M135.37 625.80V624.38M136.55 625.80V623.72M138.23 625.80V623.32M139.25 625.80V624.46M141.14 625.80V623.65M143.13 625.80V625.41M144.39 625.80V625.24M145.51 625.80V623.36M147.11 625.80V623.45M148.46 625.80V623.59M149.90 625.80V624.93M151.73 625.80V623.42M152.76 625.80V624.19M154.40 625.80V625.02M155.75 625.80V625.19M156.89 625.80V624.94M158.51 625.80V624.07M159.65 625.80V625.47M160.95 625.80V624.01M162.07 625.80V624.81M163.21 625.80V623.75M164.77 625.80V625.36M165.79 625.80V624.63M167.35 625.80V624.09M168.36 625.80V625.14M170.10 625.80V624.60M171.34 625.80V624.82M173.38 625.80V624.81M174.96 625.80V624.71M176.36 625.80V623.60M178.46 625.80V624.70M179.59 625.80V623.90M180.74 625.80V625.49M182.72 625.80V624.57M184.60 625.80V624.61M186.56 625.80V624.49M187.66 625.80V625.47M189.22 625.80V624.09M191.21 625.80V625.30M192.86 625.80V624.68M194.36 625.80V625.18M195.60 625.80V624.35M197.61 625.80V625.26M199.10 625.80V623.73M201.16 625.80V625.07M202.21 625.80V623.43M204.29 625.80V624.44M205.25 625.80V623.46M206.61 625.80V623.51M208.26 625.80V623.69M209.35 625.80V623.77M210.52 625.80V624.61M212.43 625.80V623.68M213.55 625.80V625.02M214.93 625.80V624.36M216.29 625.80V625.23M217.49 625.80V623.91M219.47 625.80V625.41M221.04 625.80V623.83M221.99 625.80V623.66M223.03 625.80V624.18M224.59 625.80V624.12M225.86 625.80V624.58M227.46 625.80V624.56M229.15 625.80V624.52M230.57 625.80V625.45M232.21 625.80V624.42M233.40 625.80V623.82M235.23 625.80V624.49M236.35 625.80V624.46M237.38 625.80V625.22M238.79 625.80V625.30M240.22 625.80V624.38M241.17 625.80V624.10M242.17 625.80V623.89M244.00 625.80V624.37M244.97 625.80V624.39M246.32 625.80V623.41M247.39 625.80V623.61M249.48 625.80V623.89M251.36 625.80V625.07M253.44 625.80V624.42M255.49 625.80V623.48M256.58 625.80V623.77M258.60 625.80V625.36M259.92 625.80V623.84M261.01 625.80V623.53M262.24 625.80V623.71M263.31 625.80V624.40M265.32 625.80V625.04M266.53 625.80V624.39M267.82 625.80V625.42M268.94 625.80V625.15M270.96 625.80V624.00M272.93 625.80V625.13M274.78 625.80V625.25M276.31 625.80V624.10M277.64 625.80V623.58M279.21 625.80V624.22M281.17 625.80V625.27M283.26 625.80V624.11M284.63 625.80V623.75M285.85 625.80V623.32M287.44 625.80V624.71M289.26 625.80V624.53M290.37 625.80V623.86M291.33 625.80V623.70M292.54 625.80V624.09M294.62 625.80V624.21M296.31 625.80V624.81M297.22 625.80V625.43M298.29 625.80V624.14M299.71 625.80V624.37M301.69 625.80V625.21M302.86 625.80V624.06M303.79 625.80V625.49M305.11 625.80V625.27M306.44 625.80V625.01M308.04 625.80V624.20M309.19 625.80V624.13M310.66 625.80V625.20M312.68 625.80V624.96M313.76 625.80V625.29M315.43 625.80V623.58M317.27 625.80V624.62M318.48 625.80V625.47M320.16 625.80V624.26M321.48 625.80V624.08M322.91 625.80V623.44M324.69 625.80V624.95M326.67 625.80V625.40M328.21 625.80V624.61M329.40 625.80V625.37M331.23 625.80V625.47M332.79 625.80V623.43M333.86 625.80V625.06M335.49 625.80V624.38M337.16 625.80V623.71M338.27 625.80V624.82M339.53 625.80V625.39M341.50 625.80V623.78M343.26 625.80V625.49M345.17 625.80V623.86M346.63 625.80V623.87M348.07 625.80V625.00M349.10 625.80V624.99M350.05 625.80V624.76M351.85 625.80V623.97M353.76 625.80V623.93M354.98 625.80V624.28M356.40 625.80V623.77M357.93 625.80V624.92M359.60 625.80V623.38M360.76 625.80V623.56M361.68 625.80V624.93M362.86 625.80V623.86M364.90 625.80V623.86M366.19 625.80V623.56M367.48 625.80V624.97M369.47 625.80V624.11M371.20 625.80V624.04M373.28 625.80V624.47M375.19 625.80V623.97M377.11 625.80V624.54M378.88 625.80V624.25M380.15 625.80V625.03M381.80 625.80V625.33M383.79 625.80V625.18M384.73 625.80V625.27M386.74 625.80V624.74M387.81 625.80V625.44M388.76 625.80V623.98M390.42 625.80V623.97M392.21 625.80V625.36M393.81 625.80V624.70M395.70 625.80V623.70M397.66 625.80V625.35M399.61 625.80V623.49" stroke="#3358b4" stroke-width="0.6" fill="none" opacity="0.8"/>
<path d="M72.0 771.10H329M332.4 771.10H669.0" stroke="#3434d0" stroke-width="1.0" fill="none" opacity="0.6"/>
<path d="M72.60 770.80V769.60M78.40 770.80V770.10M81.40 770.80V769.60M91.90 770.80V770.50M104.20 770.80V770.50M111.20 770.80V769.60M123.40 770.80V767.00M125.20 770.80V768.90M129.60 770.80V769.30M134.80 770.80V757.40M136.20 770.80V767.50M144.50 770.80V769.30M152.30 770.80V770.10M164.60 770.80V767.50M171.60 770.80V769.60M175.10 770.80V769.60M186.50 770.80V767.90M220.90 770.80V768.90M229.10 770.80V762.30M231.40 770.80V769.60M241.10 770.80V769.30M242.80 770.80V769.60M256.00 770.80V758.20M257.00 770.80V769.00M267.30 770.80V769.30M274.30 770.80V769.30M275.70 770.80V766.10M304.40 770.80V769.30M350.80 770.80V767.50M372.90 770.80V666.30M374.00 770.80V769.00M397.20 770.80V769.30M413.90 770.80V767.50M422.00 770.80V768.40M456.70 770.80V766.60M461.40 770.80V769.60M521.90 770.80V768.40M548.40 770.80V767.40M558.60 770.80V769.80M562.70 770.80V767.00M576.60 770.80V761.90M583.10 770.80V765.30M599.50 770.80V769.40M618.90 770.80V769.40M645.50 770.80V769.40M648.50 770.80V769.80" stroke="#3434d0" stroke-width="1.30" fill="none"/>
<path d="M72.50 770.80V770.40M73.65 770.80V770.40M74.59 770.80V769.74M76.46 770.80V769.93M78.35 770.80V769.93M79.60 770.80V770.41M80.61 770.80V769.82M81.76 770.80V770.21M83.17 770.80V770.48M84.38 770.80V770.25M86.14 770.80V770.17M87.42 770.80V769.63M88.93 770.80V769.73M90.57 770.80V770.47M91.96 770.80V770.11M93.79 770.80V770.19M95.54 770.80V770.02M96.70 770.80V769.72M97.71 770.80V769.76M98.81 770.80V770.50M99.95 770.80V769.81M102.03 770.80V770.50M103.51 770.80V770.06M105.37 770.80V770.33M106.86 770.80V770.19M108.76 770.80V770.27M110.80 770.80V770.24M111.95 770.80V769.87M113.45 770.80V770.40M115.11 770.80V770.43M116.96 770.80V769.87M118.80 770.80V769.93M120.13 770.80V770.14M121.50 770.80V769.70M122.51 770.80V769.70M123.44 770.80V770.31M124.65 770.80V769.69M126.16 770.80V770.16M128.12 770.80V770.29M129.57 770.80V770.02M131.37 770.80V769.82M133.05 770.80V770.19M134.34 770.80V770.36M136.25 770.80V769.90M138.04 770.80V770.35M139.47 770.80V769.80M141.07 770.80V770.39M142.52 770.80V769.70M143.71 770.80V770.33M144.97 770.80V769.87M146.88 770.80V770.36M147.97 770.80V770.28M149.26 770.80V770.03M150.35 770.80V770.20M151.48 770.80V769.62M153.25 770.80V770.41M155.31 770.80V770.41M156.67 770.80V769.61M158.52 770.80V769.84M159.95 770.80V770.32M161.61 770.80V770.40M162.76 770.80V770.15M163.70 770.80V770.14M165.55 770.80V769.88M167.05 770.80V769.93M168.51 770.80V770.37M170.13 770.80V770.14M171.92 770.80V769.68M173.34 770.80V769.98M175.13 770.80V770.12M176.31 770.80V769.85M178.26 770.80V769.80M180.00 770.80V769.73M181.72 770.80V769.92M183.16 770.80V770.22M184.82 770.80V770.41M186.22 770.80V769.80M187.98 770.80V769.93M189.18 770.80V770.12M190.62 770.80V769.94M192.02 770.80V769.89M194.03 770.80V770.34M195.72 770.80V769.80M197.08 770.80V770.06M199.15 770.80V770.47M200.71 770.80V770.36M202.54 770.80V769.65M204.07 770.80V770.41M205.66 770.80V770.01M207.42 770.80V770.04M209.08 770.80V769.75M210.61 770.80V770.13M212.65 770.80V770.31M214.37 770.80V770.15M216.18 770.80V770.39M218.27 770.80V770.18M219.23 770.80V770.25M220.61 770.80V770.49M222.02 770.80V770.12M223.75 770.80V770.18M224.97 770.80V770.30M226.76 770.80V769.65M228.29 770.80V770.30M230.16 770.80V770.15M231.31 770.80V770.38M233.14 770.80V769.77M234.80 770.80V770.08M236.38 770.80V770.30M238.43 770.80V770.18M240.10 770.80V769.76M241.98 770.80V770.08M243.23 770.80V770.01M244.28 770.80V769.75M245.61 770.80V769.73M246.83 770.80V770.16M248.03 770.80V770.12M249.16 770.80V770.50M250.92 770.80V770.25M252.12 770.80V770.23M253.59 770.80V770.11M255.26 770.80V769.91M256.59 770.80V769.66M258.52 770.80V770.45M260.41 770.80V769.68M262.25 770.80V770.37M264.15 770.80V769.93M265.07 770.80V770.49M267.11 770.80V769.91M268.31 770.80V770.41M269.38 770.80V770.29M271.21 770.80V770.19M272.30 770.80V769.69M274.15 770.80V770.35M276.12 770.80V769.95M277.95 770.80V769.90M279.93 770.80V769.79M281.83 770.80V770.32M283.56 770.80V770.02M285.35 770.80V770.11M287.31 770.80V770.00M288.53 770.80V770.29M289.60 770.80V770.06M290.57 770.80V770.08M291.64 770.80V770.06M293.14 770.80V770.01M295.07 770.80V770.49M296.98 770.80V770.08M298.56 770.80V769.90M300.47 770.80V770.16M301.87 770.80V769.64M302.86 770.80V769.93M304.52 770.80V770.47M306.15 770.80V769.89M308.17 770.80V770.20M310.25 770.80V770.04M311.73 770.80V769.69M312.67 770.80V769.85M314.32 770.80V770.20M316.26 770.80V770.17M317.73 770.80V770.03M319.55 770.80V770.31M320.97 770.80V770.12M322.54 770.80V769.76M323.79 770.80V769.76M325.17 770.80V770.05M326.40 770.80V770.04M328.47 770.80V769.91M330.32 770.80V770.20M331.60 770.80V770.23M333.21 770.80V769.93M335.05 770.80V770.46M336.81 770.80V769.70M338.37 770.80V770.46M339.63 770.80V770.49M340.76 770.80V769.67M342.39 770.80V769.91M344.23 770.80V769.68M345.87 770.80V769.94M347.52 770.80V769.87M349.14 770.80V769.89M350.29 770.80V769.90M351.74 770.80V769.81M352.76 770.80V770.34M353.71 770.80V769.80M355.70 770.80V769.91M357.05 770.80V769.76M358.89 770.80V769.99M360.10 770.80V770.23M361.50 770.80V770.21M362.92 770.80V769.92M364.94 770.80V770.45M366.52 770.80V770.46M367.57 770.80V769.77M369.16 770.80V769.67M370.59 770.80V770.49M371.96 770.80V769.97M373.98 770.80V769.62M375.45 770.80V770.13M376.47 770.80V769.92M377.63 770.80V770.36M378.55 770.80V770.50M380.27 770.80V770.39M382.33 770.80V770.42M384.27 770.80V770.38M385.19 770.80V769.85M386.38 770.80V769.84M387.51 770.80V770.45M389.34 770.80V769.86M391.26 770.80V769.84M392.27 770.80V769.93M394.02 770.80V770.09M396.04 770.80V770.27M398.09 770.80V769.85M399.01 770.80V770.49M400.69 770.80V769.76M401.68 770.80V770.22M403.46 770.80V770.35M405.39 770.80V770.06M406.36 770.80V770.17M407.95 770.80V770.11M409.67 770.80V770.37M411.52 770.80V770.17M413.20 770.80V769.93M414.60 770.80V770.15M416.44 770.80V769.65M418.28 770.80V769.99M419.53 770.80V770.45M421.60 770.80V769.87M423.49 770.80V770.20M425.12 770.80V769.62M427.02 770.80V769.96M428.29 770.80V770.11M430.26 770.80V770.16M431.98 770.80V769.96M433.95 770.80V769.77M435.19 770.80V770.50M436.41 770.80V770.12M438.01 770.80V769.77M439.98 770.80V770.46M441.88 770.80V769.77M443.82 770.80V769.99M445.05 770.80V769.73M446.91 770.80V769.88M448.91 770.80V770.19M449.91 770.80V770.00M451.77 770.80V770.32M453.57 770.80V769.66M454.75 770.80V769.95M456.46 770.80V770.08M457.61 770.80V770.27M459.41 770.80V769.79M460.87 770.80V770.42M462.73 770.80V769.81M463.91 770.80V769.98M465.89 770.80V769.70M467.42 770.80V770.07M469.02 770.80V770.33M470.15 770.80V770.34M471.89 770.80V770.17M473.47 770.80V770.14M474.99 770.80V770.37M475.95 770.80V769.60M477.29 770.80V770.40M478.95 770.80V769.79M480.04 770.80V769.96M481.36 770.80V770.03M482.28 770.80V770.47M484.37 770.80V769.72M485.85 770.80V769.99M487.07 770.80V769.80M488.48 770.80V769.65M490.30 770.80V769.76M492.35 770.80V770.27M493.30 770.80V770.32M494.42 770.80V770.42M495.38 770.80V770.00M497.32 770.80V770.09M499.36 770.80V769.68M500.34 770.80V769.96M501.71 770.80V770.39M503.76 770.80V770.27M505.34 770.80V769.92M507.39 770.80V769.90M508.76 770.80V770.10M509.85 770.80V769.63M511.94 770.80V770.30M512.89 770.80V770.27M514.21 770.80V769.69M516.20 770.80V769.75M517.15 770.80V769.79M518.90 770.80V769.92M520.99 770.80V770.45M522.06 770.80V769.82M524.09 770.80V769.89M525.35 770.80V769.97M527.16 770.80V770.41M528.45 770.80V770.27M529.49 770.80V770.07M530.60 770.80V770.29M531.67 770.80V769.89M532.58 770.80V769.85M533.72 770.80V770.47M535.73 770.80V770.30M537.75 770.80V769.72M539.72 770.80V770.37M541.15 770.80V770.41M543.17 770.80V769.74M544.82 770.80V770.09M546.13 770.80V769.76M547.60 770.80V769.93M548.68 770.80V770.30M549.64 770.80V769.86M551.21 770.80V770.37M553.15 770.80V770.26M554.55 770.80V770.36M555.77 770.80V769.74M557.07 770.80V770.35M558.56 770.80V770.21M560.55 770.80V770.40M562.62 770.80V770.45M564.59 770.80V769.90M565.75 770.80V770.07M566.99 770.80V770.27M568.13 770.80V770.17M570.22 770.80V769.60M572.23 770.80V770.41M573.48 770.80V769.69M574.45 770.80V769.85M575.70 770.80V769.62M576.62 770.80V769.77M577.93 770.80V770.37M578.83 770.80V769.75M580.36 770.80V770.33M581.79 770.80V769.68M582.95 770.80V769.99M584.01 770.80V770.34M585.84 770.80V769.86M586.97 770.80V770.43M587.98 770.80V769.95M589.47 770.80V770.25M590.62 770.80V769.95M592.37 770.80V769.77M593.97 770.80V770.32M594.95 770.80V769.84M596.34 770.80V769.85M597.30 770.80V769.77M598.61 770.80V769.74M600.54 770.80V770.06M601.46 770.80V769.68M602.93 770.80V769.72M604.15 770.80V770.33M606.05 770.80V770.17M607.15 770.80V770.17M608.76 770.80V770.50M610.29 770.80V770.10M611.80 770.80V770.39M613.56 770.80V769.77M615.50 770.80V770.21M617.25 770.80V770.16M619.06 770.80V770.44M621.00 770.80V769.64M622.50 770.80V770.04M624.03 770.80V770.02M624.96 770.80V769.63M626.13 770.80V770.34M627.15 770.80V770.27M629.03 770.80V770.47M630.05 770.80V769.87M631.18 770.80V770.48M632.80 770.80V769.98M634.33 770.80V769.87M635.35 770.80V769.72M637.11 770.80V770.46M638.16 770.80V770.06M639.66 770.80V770.25M640.71 770.80V770.13M641.77 770.80V769.97M643.70 770.80V770.37M645.29 770.80V769.83M646.39 770.80V769.76M648.41 770.80V770.15M649.82 770.80V769.74M651.35 770.80V770.14M653.38 770.80V769.80M654.68 770.80V770.28M655.99 770.80V770.11M658.06 770.80V769.78M660.06 770.80V769.77M661.98 770.80V770.45M663.50 770.80V769.64M665.52 770.80V770.28M666.93 770.80V769.93" stroke="#3434d0" stroke-width="0.6" fill="none" opacity="0.8"/>
<path d="M72.0 918.80H669.0" stroke="#3358b4" stroke-width="1.0" fill="none" opacity="0.6"/>
<path d="M73.60 918.50V914.10M75.10 918.50V915.50M76.60 918.50V914.80M79.90 918.50V913.40M81.40 918.50V914.50M85.00 918.50V916.50M89.30 918.50V911.20M90.40 918.50V914.80M94.10 918.50V916.00M96.30 918.50V916.00M99.20 918.50V915.50M102.10 918.50V915.50M104.60 918.50V914.80M108.00 918.50V914.10M110.90 918.50V911.60M112.30 918.50V914.50M113.80 918.50V916.00M118.90 918.50V916.30M121.40 918.50V915.10M122.80 918.50V915.50M126.00 918.50V917.00M129.90 918.50V917.00M135.70 918.50V914.50M137.40 918.50V916.00M142.70 918.50V909.30M144.50 918.50V914.80M148.80 918.50V911.90M150.30 918.50V914.50M152.50 918.50V915.50M158.30 918.50V916.30M161.20 918.50V916.00M167.10 918.50V917.00M168.60 918.50V917.10M171.60 918.50V915.70M176.70 918.50V903.20M180.30 918.50V914.90M181.40 918.50V915.70M185.40 918.50V916.40M189.10 918.50V916.40M190.50 918.50V915.70M192.70 918.50V897.40M198.60 918.50V911.00M200.00 918.50V916.40M204.40 918.50V915.40M207.30 918.50V916.10M211.70 918.50V917.10M215.40 918.50V916.40M219.00 918.50V914.20M221.50 918.50V894.10M224.10 918.50V912.70M228.20 918.50V903.70M230.40 918.50V914.90M234.30 918.50V916.80M236.50 918.50V915.70M238.30 918.50V914.50M244.60 918.50V915.70M248.90 918.50V912.70M251.10 918.50V907.20M255.50 918.50V915.40M260.00 918.50V917.00M265.80 918.50V916.00M267.60 918.50V916.00M275.80 918.50V909.10M279.00 918.50V917.80M285.50 918.50V913.90M289.20 918.50V913.90M293.00 918.50V917.00M298.70 918.50V914.90M300.90 918.50V916.40M305.50 918.50V912.00M308.20 918.50V913.90M310.70 918.50V903.20M314.30 918.50V898.10M318.00 918.50V917.50M323.50 918.50V915.40M327.20 918.50V916.40M331.50 918.50V916.80M337.00 918.50V917.50M343.20 918.50V914.90M348.30 918.50V915.70M351.20 918.50V916.80M354.90 918.50V916.10M355.70 918.50V916.40M363.80 918.50V915.40M367.40 918.50V912.00M370.80 918.50V869.40M376.00 918.50V917.50M380.50 918.50V911.60M383.50 918.50V916.80M386.80 918.50V910.50M390.00 918.50V917.50M393.70 918.50V916.40M398.80 918.50V917.10M403.90 918.50V913.00M408.00 918.50V917.60M413.40 918.50V916.80M417.50 918.50V913.90M422.90 918.50V915.70M425.50 918.50V911.30M430.00 918.50V917.50M435.00 918.50V916.40M439.40 918.50V910.10M441.10 918.50V912.70M442.60 918.50V910.50M446.20 918.50V912.70M449.90 918.50V912.40M450.80 918.50V913.10M454.00 918.50V915.50M458.00 918.50V915.50M460.00 918.50V915.50M462.00 918.50V915.80M466.30 918.50V838.50M467.30 918.50V917.10M472.50 918.50V916.30M474.10 918.50V917.10M479.70 918.50V913.90M481.30 918.50V914.70M483.70 918.50V915.50M486.10 918.50V913.60M487.30 918.50V914.20M490.10 918.50V916.30M584.90 918.50V916.10M592.20 918.50V916.10M604.50 918.50V916.60M608.30 918.50V913.20M620.40 918.50V912.30M625.00 918.50V917.50M662.30 918.50V915.40M668.60 918.50V915.70" stroke="#3358b4" stroke-width="1.20" fill="none"/>
<path d="M72.50 918.50V917.03M73.48 918.50V917.25M74.99 918.50V918.15M76.06 918.50V916.07M77.89 918.50V916.14M79.55 918.50V916.42M81.51 918.50V916.25M82.45 918.50V916.79M83.67 918.50V916.71M84.90 918.50V917.01M86.91 918.50V916.83M88.11 918.50V917.06M89.53 918.50V916.11M90.77 918.50V917.53M92.45 918.50V917.94M94.06 918.50V916.10M95.58 918.50V917.61M97.04 918.50V917.03M98.12 918.50V917.93M99.17 918.50V917.55M100.56 918.50V917.57M101.75 918.50V918.01M103.31 918.50V916.35M104.94 918.50V916.95M106.62 918.50V917.76M108.38 918.50V917.19M109.93 918.50V916.85M111.40 918.50V917.52M112.59 918.50V917.71M114.10 918.50V917.36M115.70 918.50V918.17M117.03 918.50V916.30M118.21 918.50V916.98M119.70 918.50V917.57M121.79 918.50V917.55M123.61 918.50V917.85M124.60 918.50V916.28M126.02 918.50V918.06M127.39 918.50V917.23M129.17 918.50V917.96M130.34 918.50V916.09M132.13 918.50V917.86M133.43 918.50V917.42M135.14 918.50V916.84M137.06 918.50V916.39M138.58 918.50V916.57M140.38 918.50V916.53M141.85 918.50V916.47M143.60 918.50V916.19M144.65 918.50V916.28M145.55 918.50V916.52M147.16 918.50V917.10M149.21 918.50V916.94M150.61 918.50V916.48M152.56 918.50V916.86M153.92 918.50V917.20M155.37 918.50V916.61M156.62 918.50V917.34M158.18 918.50V917.35M159.47 918.50V916.47M161.39 918.50V917.10M162.82 918.50V917.79M164.09 918.50V917.88M165.68 918.50V916.92M166.68 918.50V916.18M167.97 918.50V916.34M169.88 918.50V916.09M171.02 918.50V917.26M173.02 918.50V918.18M173.97 918.50V916.96M175.47 918.50V916.18M177.30 918.50V917.02M179.40 918.50V917.06M180.92 918.50V916.69M182.28 918.50V917.41M183.90 918.50V917.43M185.94 918.50V916.71M187.47 918.50V917.98M188.81 918.50V917.32M190.39 918.50V916.94M192.34 918.50V916.08M193.83 918.50V917.23M195.48 918.50V916.01M196.79 918.50V917.03M198.67 918.50V917.82M199.95 918.50V916.05M201.84 918.50V917.07M202.87 918.50V916.23M204.60 918.50V916.39M206.69 918.50V916.25M208.10 918.50V917.86M209.34 918.50V917.07M210.85 918.50V917.79M211.97 918.50V916.81M213.59 918.50V917.42M215.68 918.50V916.80M216.64 918.50V917.29M218.48 918.50V917.53M220.21 918.50V918.19M221.47 918.50V916.35M223.08 918.50V916.73M224.21 918.50V917.10M225.78 918.50V917.61M227.45 918.50V917.03M229.55 918.50V916.94M230.94 918.50V917.93M232.03 918.50V916.53M233.06 918.50V917.98M234.16 918.50V917.05M236.05 918.50V916.85M237.92 918.50V918.06M238.84 918.50V916.50M240.12 918.50V916.63M241.45 918.50V917.83M242.67 918.50V917.98M244.65 918.50V916.92M245.97 918.50V917.21M247.33 918.50V918.08M249.30 918.50V916.92M251.35 918.50V917.23M253.00 918.50V917.65M253.95 918.50V916.15M255.88 918.50V917.51M257.85 918.50V916.41M259.12 918.50V916.87M261.17 918.50V917.11M263.21 918.50V917.67M264.58 918.50V916.62M265.74 918.50V917.52M267.69 918.50V917.13M269.55 918.50V917.66M270.65 918.50V917.41M271.78 918.50V916.06M273.03 918.50V916.96M274.06 918.50V917.03M275.43 918.50V917.31M276.41 918.50V917.93M278.30 918.50V917.43M279.49 918.50V917.78M280.73 918.50V917.68M281.67 918.50V916.74M282.98 918.50V917.86M284.73 918.50V918.00M285.95 918.50V916.36M287.01 918.50V917.22M288.91 918.50V916.43M290.00 918.50V917.42M291.77 918.50V917.37M293.82 918.50V917.74M295.86 918.50V917.09M297.03 918.50V917.20M298.09 918.50V916.65M299.30 918.50V916.22M300.91 918.50V917.39M302.10 918.50V916.86M303.26 918.50V916.28M304.31 918.50V917.07M305.86 918.50V917.61M307.68 918.50V917.35M309.37 918.50V916.95M310.64 918.50V917.34M311.65 918.50V917.81M313.57 918.50V917.49M315.26 918.50V917.96M316.84 918.50V917.40M318.34 918.50V917.55M319.32 918.50V917.52M320.49 918.50V917.92M322.25 918.50V917.58M323.63 918.50V916.20M325.46 918.50V916.26M327.40 918.50V917.91M328.63 918.50V918.13M330.34 918.50V916.74M331.67 918.50V917.29M333.36 918.50V916.66M334.56 918.50V916.34M335.88 918.50V916.82M337.00 918.50V917.95M338.99 918.50V916.59M340.75 918.50V918.11M341.69 918.50V917.84M342.83 918.50V917.53M344.19 918.50V918.11M345.46 918.50V916.80M346.58 918.50V916.35M348.16 918.50V916.62M349.37 918.50V917.24M351.09 918.50V917.43M351.99 918.50V916.36M353.82 918.50V917.57M354.77 918.50V916.32M356.40 918.50V918.10M357.60 918.50V917.96M359.45 918.50V917.74M361.44 918.50V916.55M362.45 918.50V916.67M363.82 918.50V916.56M365.71 918.50V917.58M366.72 918.50V916.12M368.13 918.50V916.15M369.86 918.50V916.58M371.76 918.50V916.82M373.20 918.50V918.08M374.94 918.50V917.26M376.45 918.50V916.16M377.50 918.50V916.52M378.46 918.50V916.65M380.32 918.50V917.63M381.88 918.50V916.07M383.54 918.50V917.00M384.74 918.50V918.07M386.07 918.50V917.29M387.21 918.50V917.52M388.28 918.50V916.64M389.98 918.50V917.68M391.17 918.50V917.07M392.61 918.50V916.14M393.93 918.50V917.54M395.89 918.50V917.89M397.47 918.50V917.47M399.34 918.50V916.99M401.16 918.50V917.83M402.86 918.50V916.88M404.31 918.50V916.51M406.21 918.50V917.95M407.46 918.50V917.41M408.60 918.50V918.07M409.84 918.50V917.77M411.58 918.50V917.21M412.62 918.50V917.49M414.08 918.50V917.40M415.18 918.50V918.04M416.09 918.50V916.02M417.90 918.50V918.02M419.66 918.50V916.04M421.23 918.50V917.96M422.72 918.50V917.24M423.85 918.50V917.01M424.76 918.50V916.18M426.43 918.50V916.82M428.45 918.50V916.76M429.65 918.50V917.66M430.72 918.50V918.14M432.55 918.50V916.35M433.81 918.50V917.79M435.47 918.50V916.34M437.48 918.50V917.83M439.32 918.50V916.37M441.12 918.50V917.48M442.24 918.50V916.38M443.52 918.50V917.39M445.08 918.50V917.39M446.98 918.50V917.67M447.93 918.50V916.95M449.58 918.50V916.40M451.33 918.50V916.21M453.36 918.50V917.11M454.86 918.50V917.85M456.12 918.50V916.92M457.12 918.50V916.69M458.22 918.50V917.22M460.28 918.50V918.00M461.23 918.50V917.23M462.36 918.50V916.61M463.26 918.50V916.35M465.19 918.50V916.47M466.60 918.50V917.58M468.29 918.50V917.07M469.70 918.50V917.45M471.12 918.50V916.73M473.01 918.50V916.21M474.11 918.50V917.55M475.54 918.50V916.96M476.86 918.50V917.77M477.86 918.50V917.49M479.32 918.50V916.06M481.31 918.50V916.30M483.37 918.50V916.08M485.02 918.50V916.42M485.99 918.50V916.71M487.62 918.50V917.55M489.21 918.50V916.10M490.68 918.50V916.78M491.94 918.50V917.44M493.91 918.50V918.14M495.03 918.50V916.71M496.47 918.50V918.01M498.16 918.50V917.38M499.76 918.50V917.28M501.29 918.50V916.96M502.67 918.50V917.95M503.79 918.50V916.24M505.34 918.50V917.95M507.28 918.50V917.64M508.29 918.50V917.03M509.49 918.50V917.12M511.06 918.50V917.70M512.65 918.50V917.95M514.16 918.50V916.91M515.16 918.50V917.30M516.15 918.50V917.23M518.08 918.50V916.99M519.84 918.50V916.53M520.88 918.50V916.02M522.64 918.50V917.98M524.54 918.50V917.34M525.65 918.50V916.09M527.22 918.50V916.50M528.29 918.50V916.49M529.25 918.50V917.68M530.60 918.50V918.17M532.21 918.50V917.73M533.47 918.50V916.64M534.89 918.50V916.25M536.53 918.50V916.28M538.11 918.50V916.18M540.05 918.50V917.83M541.85 918.50V917.45M543.66 918.50V916.70M545.55 918.50V917.93M546.90 918.50V916.58M548.94 918.50V916.61M549.89 918.50V916.87M550.91 918.50V916.99M552.77 918.50V917.95M554.78 918.50V916.71M555.99 918.50V917.78M557.43 918.50V916.36M559.02 918.50V917.95M559.95 918.50V917.96M561.81 918.50V917.79M563.37 918.50V917.56M565.10 918.50V917.36M566.17 918.50V916.27M567.72 918.50V916.68M569.59 918.50V916.11M570.50 918.50V917.45M571.59 918.50V917.10M573.53 918.50V916.44M574.48 918.50V917.80M576.36 918.50V916.71M577.73 918.50V917.15M578.82 918.50V916.34M580.19 918.50V916.28M581.82 918.50V918.03M583.12 918.50V917.72M585.09 918.50V916.90M586.04 918.50V917.83M587.38 918.50V917.17M588.97 918.50V917.35M590.29 918.50V918.19M591.89 918.50V917.47M592.81 918.50V917.19M594.90 918.50V918.10M595.97 918.50V916.72M597.20 918.50V917.60M598.70 918.50V917.62M600.28 918.50V917.04M602.33 918.50V916.02M603.27 918.50V916.97M605.10 918.50V916.28M606.93 918.50V916.81M608.59 918.50V917.40M609.83 918.50V916.45M611.77 918.50V916.13M613.49 918.50V917.53M615.31 918.50V916.57M616.82 918.50V916.80M618.14 918.50V916.99M619.53 918.50V918.07M620.83 918.50V917.49M622.92 918.50V917.14M624.26 918.50V917.66M625.44 918.50V917.43M626.50 918.50V918.18M628.45 918.50V917.20M629.88 918.50V916.95M631.14 918.50V917.83M632.12 918.50V917.54M633.39 918.50V916.60M634.96 918.50V916.14M636.26 918.50V916.17M637.86 918.50V918.02M638.98 918.50V916.92M641.06 918.50V917.41M642.89 918.50V917.26M644.83 918.50V918.05M646.32 918.50V916.22M647.55 918.50V917.63M648.47 918.50V917.84M649.70 918.50V916.65M650.86 918.50V917.32M652.00 918.50V916.87M653.94 918.50V916.77M655.07 918.50V916.59M657.13 918.50V916.88M658.12 918.50V916.42M660.07 918.50V917.45M661.14 918.50V917.79M662.68 918.50V916.27M664.35 918.50V916.17M665.50 918.50V917.48M667.30 918.50V916.77" stroke="#3358b4" stroke-width="0.6" fill="none" opacity="0.8"/>
<rect x="371" y="726.2" width="4" height="3.4" fill="#fff"/>
<g transform="translate(184.20 25.30) scale(1.0000 1.0000)"><path d="M105.65 16.40L105.65 10.30M104.55 16.40L104.55 10.30M105.10 16.40L112.10 20.40M112.10 20.40L112.10 28.60M110.89 21.63L110.89 27.37M112.10 28.60L107.11 32.31M103.09 32.26L98.30 28.60M98.30 28.60L96.58 23.30M99.57 19.28L105.10 16.40M98.02 28.13L91.26 32.08M98.58 29.07L91.82 33.03M105.10 35.90L105.10 46.10M105.10 46.10L92.04 42.23M87.76 42.33L76.80 46.10M80.00 53.70L81.10 58.30M101.60 53.70L102.15 58.30M76.80 46.10L76.43 40.40M74.16 38.30L67.58 38.30M65.70 36.20L65.70 33.50M65.15 40.40L65.15 43.00M66.25 40.40L66.25 43.00M63.82 38.30L60.54 38.30M56.26 38.30L52.98 38.30M51.10 36.20L51.10 33.50M50.55 40.40L50.55 43.00M51.65 40.40L51.65 43.00M49.22 38.30L44.34 38.30M41.96 40.40L41.40 45.40M26.88 46.70L22.70 57.40M22.70 57.40L12.80 66.00M12.80 66.00L26.30 66.90M26.30 66.90L31.20 54.50M31.20 54.50L41.40 45.40M22.70 57.40L15.80 58.40M15.80 58.40L11.23 56.42M12.80 66.00L7.60 68.08M31.20 54.50L36.48 58.30M43.07 61.74L48.20 63.60M47.65 63.62L47.86 68.72M48.75 63.58L48.96 68.68M48.20 63.60L54.30 60.00M26.30 66.90L24.16 70.80" stroke="#262626" stroke-width="0.65" fill="none" stroke-linecap="round"/><path d="M41.40 45.40L29.84 44.72" stroke="#262626" stroke-width="1.17" fill="none" stroke-linecap="round"/><path d="M76.80 46.10L80.00 53.70M80.00 53.70L101.60 53.70M101.60 53.70L105.10 46.10" stroke="#111" stroke-width="1.95" fill="none" stroke-linecap="round" stroke-linejoin="round"/><text transform="translate(103.16 9.92) scale(0.5000 0.5000)" font-size="10" fill="#262626" stroke="#262626" stroke-width="0.600" stroke-linejoin="round">O</text><text transform="translate(103.29 35.52) scale(0.5000 0.5000)" font-size="10" fill="#262626" stroke="#262626" stroke-width="0.600" stroke-linejoin="round">N</text><text transform="translate(92.29 22.92) scale(0.5000 0.5000)" font-size="10" fill="#262626" stroke="#262626" stroke-width="0.600" stroke-linejoin="round">HN</text><text transform="translate(87.46 35.52) scale(0.5000 0.5000)" font-size="10" fill="#262626" stroke="#262626" stroke-width="0.600" stroke-linejoin="round">O</text><text transform="translate(87.96 43.32) scale(0.5000 0.5000)" font-size="10" fill="#262626" stroke="#262626" stroke-width="0.600" stroke-linejoin="round">O</text><text transform="translate(77.85 62.12) scale(0.5000 0.5000)" font-size="10" fill="#262626" stroke="#262626" stroke-width="0.600" stroke-linejoin="round">OH</text><text transform="translate(98.65 62.12) scale(0.5000 0.5000)" font-size="10" fill="#262626" stroke="#262626" stroke-width="0.600" stroke-linejoin="round">OH</text><text transform="translate(74.36 40.02) scale(0.5000 0.5000)" font-size="10" fill="#262626" stroke="#262626" stroke-width="0.600" stroke-linejoin="round">O</text><text transform="translate(64.03 40.02) scale(0.5000 0.5000)" font-size="10" fill="#262626" stroke="#262626" stroke-width="0.600" stroke-linejoin="round">P</text><text transform="translate(63.76 33.12) scale(0.5000 0.5000)" font-size="10" fill="#262626" stroke="#262626" stroke-width="0.600" stroke-linejoin="round">O</text><text transform="translate(67.74 30.65) scale(0.3000 0.3000)" font-size="10" fill="#262626" stroke="#262626" stroke-width="1.000" stroke-linejoin="round">-</text><text transform="translate(63.76 46.82) scale(0.5000 0.5000)" font-size="10" fill="#262626" stroke="#262626" stroke-width="0.600" stroke-linejoin="round">O</text><text transform="translate(56.46 40.02) scale(0.5000 0.5000)" font-size="10" fill="#262626" stroke="#262626" stroke-width="0.600" stroke-linejoin="round">O</text><text transform="translate(49.43 40.02) scale(0.5000 0.5000)" font-size="10" fill="#262626" stroke="#262626" stroke-width="0.600" stroke-linejoin="round">P</text><text transform="translate(49.16 33.12) scale(0.5000 0.5000)" font-size="10" fill="#262626" stroke="#262626" stroke-width="0.600" stroke-linejoin="round">O</text><text transform="translate(53.14 30.65) scale(0.3000 0.3000)" font-size="10" fill="#262626" stroke="#262626" stroke-width="1.000" stroke-linejoin="round">-</text><text transform="translate(49.16 46.82) scale(0.5000 0.5000)" font-size="10" fill="#262626" stroke="#262626" stroke-width="0.600" stroke-linejoin="round">O</text><text transform="translate(40.26 40.02) scale(0.5000 0.5000)" font-size="10" fill="#262626" stroke="#262626" stroke-width="0.600" stroke-linejoin="round">O</text><text transform="translate(25.76 46.32) scale(0.5000 0.5000)" font-size="10" fill="#262626" stroke="#262626" stroke-width="0.600" stroke-linejoin="round">O</text><text transform="translate(3.75 56.52) scale(0.5000 0.5000)" font-size="10" fill="#262626" stroke="#262626" stroke-width="0.600" stroke-linejoin="round">HO</text><text transform="translate(0.05 71.32) scale(0.5000 0.5000)" font-size="10" fill="#262626" stroke="#262626" stroke-width="0.600" stroke-linejoin="round">HO</text><text transform="translate(35.79 62.12) scale(0.5000 0.5000)" font-size="10" fill="#262626" stroke="#262626" stroke-width="0.600" stroke-linejoin="round">HN</text><text transform="translate(46.56 72.52) scale(0.5000 0.5000)" font-size="10" fill="#262626" stroke="#262626" stroke-width="0.600" stroke-linejoin="round">O</text><text transform="translate(21.06 74.62) scale(0.5000 0.5000)" font-size="10" fill="#262626" stroke="#262626" stroke-width="0.600" stroke-linejoin="round">O</text><path d="M22.03 75.00L20.60 78.10M20.53 77.55L13.00 78.56M20.67 78.65L13.14 79.65M20.60 78.10L25.40 82.30M25.51 82.84L31.37 81.67M25.29 81.76L31.15 80.59M25.40 82.30L23.77 86.20" stroke="#262626" stroke-width="0.65" fill="none" stroke-linecap="round"/><text transform="translate(4.82 81.32) scale(0.5000 0.5000)" font-size="10" fill="#262626" stroke="#262626" stroke-width="0.600" stroke-linejoin="round">H₂C</text><text transform="translate(31.46 82.42) scale(0.5000 0.5000)" font-size="10" fill="#262626" stroke="#262626" stroke-width="0.600" stroke-linejoin="round">O</text><text transform="translate(20.96 90.02) scale(0.5000 0.5000)" font-size="10" fill="#262626" stroke="#262626" stroke-width="0.600" stroke-linejoin="round">O</text><text transform="translate(24.94 87.55) scale(0.3000 0.3000)" font-size="10" fill="#262626" stroke="#262626" stroke-width="1.000" stroke-linejoin="round">-</text></g>
<g transform="translate(200.00 182.00) scale(1.0000 1.0000)"><path d="M105.65 16.40L105.65 10.30M104.55 16.40L104.55 10.30M105.10 16.40L112.10 20.40M112.10 20.40L112.10 28.60M110.89 21.63L110.89 27.37M112.10 28.60L107.11 32.31M103.09 32.26L98.30 28.60M98.30 28.60L96.58 23.30M99.57 19.28L105.10 16.40M98.02 28.13L91.26 32.08M98.58 29.07L91.82 33.03M105.10 35.90L105.10 46.10M105.10 46.10L92.04 42.23M87.76 42.33L76.80 46.10M80.00 53.70L81.10 58.30M101.60 53.70L102.15 58.30M76.80 46.10L76.43 40.40M74.16 38.30L67.58 38.30M65.70 36.20L65.70 33.50M65.15 40.40L65.15 43.00M66.25 40.40L66.25 43.00M63.82 38.30L60.54 38.30M56.26 38.30L52.98 38.30M51.10 36.20L51.10 33.50M50.55 40.40L50.55 43.00M51.65 40.40L51.65 43.00M49.22 38.30L44.34 38.30M41.96 40.40L41.40 45.40M26.88 46.70L22.70 57.40M22.70 57.40L12.80 66.00M12.80 66.00L26.30 66.90M26.30 66.90L31.20 54.50M31.20 54.50L41.40 45.40M22.70 57.40L15.80 58.40M15.80 58.40L11.23 56.42M12.80 66.00L7.60 68.08M31.20 54.50L36.48 58.30M43.07 61.74L48.20 63.60M47.65 63.62L47.86 68.72M48.75 63.58L48.96 68.68M48.20 63.60L54.30 60.00M26.30 66.90L24.16 70.80" stroke="#262626" stroke-width="0.65" fill="none" stroke-linecap="round"/><path d="M41.40 45.40L29.84 44.72" stroke="#262626" stroke-width="1.17" fill="none" stroke-linecap="round"/><path d="M76.80 46.10L80.00 53.70M80.00 53.70L101.60 53.70M101.60 53.70L105.10 46.10" stroke="#111" stroke-width="1.95" fill="none" stroke-linecap="round" stroke-linejoin="round"/><text transform="translate(103.16 9.92) scale(0.5000 0.5000)" font-size="10" fill="#262626" stroke="#262626" stroke-width="0.600" stroke-linejoin="round">O</text><text transform="translate(103.29 35.52) scale(0.5000 0.5000)" font-size="10" fill="#262626" stroke="#262626" stroke-width="0.600" stroke-linejoin="round">N</text><text transform="translate(92.29 22.92) scale(0.5000 0.5000)" font-size="10" fill="#262626" stroke="#262626" stroke-width="0.600" stroke-linejoin="round">HN</text><text transform="translate(87.46 35.52) scale(0.5000 0.5000)" font-size="10" fill="#262626" stroke="#262626" stroke-width="0.600" stroke-linejoin="round">O</text><text transform="translate(87.96 43.32) scale(0.5000 0.5000)" font-size="10" fill="#262626" stroke="#262626" stroke-width="0.600" stroke-linejoin="round">O</text><text transform="translate(77.85 62.12) scale(0.5000 0.5000)" font-size="10" fill="#262626" stroke="#262626" stroke-width="0.600" stroke-linejoin="round">OH</text><text transform="translate(98.65 62.12) scale(0.5000 0.5000)" font-size="10" fill="#262626" stroke="#262626" stroke-width="0.600" stroke-linejoin="round">OH</text><text transform="translate(74.36 40.02) scale(0.5000 0.5000)" font-size="10" fill="#262626" stroke="#262626" stroke-width="0.600" stroke-linejoin="round">O</text><text transform="translate(64.03 40.02) scale(0.5000 0.5000)" font-size="10" fill="#262626" stroke="#262626" stroke-width="0.600" stroke-linejoin="round">P</text><text transform="translate(63.76 33.12) scale(0.5000 0.5000)" font-size="10" fill="#262626" stroke="#262626" stroke-width="0.600" stroke-linejoin="round">O</text><text transform="translate(67.74 30.65) scale(0.3000 0.3000)" font-size="10" fill="#262626" stroke="#262626" stroke-width="1.000" stroke-linejoin="round">-</text><text transform="translate(63.76 46.82) scale(0.5000 0.5000)" font-size="10" fill="#262626" stroke="#262626" stroke-width="0.600" stroke-linejoin="round">O</text><text transform="translate(56.46 40.02) scale(0.5000 0.5000)" font-size="10" fill="#262626" stroke="#262626" stroke-width="0.600" stroke-linejoin="round">O</text><text transform="translate(49.43 40.02) scale(0.5000 0.5000)" font-size="10" fill="#262626" stroke="#262626" stroke-width="0.600" stroke-linejoin="round">P</text><text transform="translate(49.16 33.12) scale(0.5000 0.5000)" font-size="10" fill="#262626" stroke="#262626" stroke-width="0.600" stroke-linejoin="round">O</text><text transform="translate(53.14 30.65) scale(0.3000 0.3000)" font-size="10" fill="#262626" stroke="#262626" stroke-width="1.000" stroke-linejoin="round">-</text><text transform="translate(49.16 46.82) scale(0.5000 0.5000)" font-size="10" fill="#262626" stroke="#262626" stroke-width="0.600" stroke-linejoin="round">O</text><text transform="translate(40.26 40.02) scale(0.5000 0.5000)" font-size="10" fill="#262626" stroke="#262626" stroke-width="0.600" stroke-linejoin="round">O</text><text transform="translate(25.76 46.32) scale(0.5000 0.5000)" font-size="10" fill="#262626" stroke="#262626" stroke-width="0.600" stroke-linejoin="round">O</text><text transform="translate(3.75 56.52) scale(0.5000 0.5000)" font-size="10" fill="#262626" stroke="#262626" stroke-width="0.600" stroke-linejoin="round">HO</text><text transform="translate(0.05 71.32) scale(0.5000 0.5000)" font-size="10" fill="#262626" stroke="#262626" stroke-width="0.600" stroke-linejoin="round">HO</text><text transform="translate(35.79 62.12) scale(0.5000 0.5000)" font-size="10" fill="#262626" stroke="#262626" stroke-width="0.600" stroke-linejoin="round">HN</text><text transform="translate(46.56 72.52) scale(0.5000 0.5000)" font-size="10" fill="#262626" stroke="#262626" stroke-width="0.600" stroke-linejoin="round">O</text><text transform="translate(21.06 74.62) scale(0.5000 0.5000)" font-size="10" fill="#262626" stroke="#262626" stroke-width="0.600" stroke-linejoin="round">O</text><path d="M22.03 75.00L20.60 78.10M20.60 78.10L13.07 79.11M20.60 78.10L25.40 82.30M25.51 82.84L31.37 81.67M25.29 81.76L31.15 80.59M25.40 82.30L23.77 86.20" stroke="#262626" stroke-width="0.65" fill="none" stroke-linecap="round"/><text transform="translate(4.77 81.32) scale(0.5000 0.5000)" font-size="10" fill="#262626" stroke="#262626" stroke-width="0.600" stroke-linejoin="round">H₃C</text><text transform="translate(31.46 82.42) scale(0.5000 0.5000)" font-size="10" fill="#262626" stroke="#262626" stroke-width="0.600" stroke-linejoin="round">O</text><text transform="translate(20.96 90.02) scale(0.5000 0.5000)" font-size="10" fill="#262626" stroke="#262626" stroke-width="0.600" stroke-linejoin="round">O</text><text transform="translate(24.94 87.55) scale(0.3000 0.3000)" font-size="10" fill="#262626" stroke="#262626" stroke-width="1.000" stroke-linejoin="round">-</text></g>
<g transform="translate(214.80 346.70) scale(1.0270 0.8970)"><path d="M105.65 16.40L105.65 10.30M104.55 16.40L104.55 10.30M105.10 16.40L112.10 20.40M112.10 20.40L112.10 28.60M110.89 21.63L110.89 27.37M112.10 28.60L107.11 32.31M103.09 32.26L98.30 28.60M98.30 28.60L96.58 23.30M99.57 19.28L105.10 16.40M98.02 28.13L91.26 32.08M98.58 29.07L91.82 33.03M105.10 35.90L105.10 46.10M105.10 46.10L92.04 42.23M87.76 42.33L76.80 46.10M80.00 53.70L81.10 58.30M101.60 53.70L102.15 58.30M76.80 46.10L76.43 40.40M74.16 38.30L67.58 38.30M65.70 36.20L65.70 33.50M65.15 40.40L65.15 43.00M66.25 40.40L66.25 43.00M63.82 38.30L60.54 38.30M56.26 38.30L52.98 38.30M51.10 36.20L51.10 33.50M50.55 40.40L50.55 43.00M51.65 40.40L51.65 43.00M49.22 38.30L44.34 38.30M41.96 40.40L41.40 45.40M26.88 46.70L22.70 57.40M22.70 57.40L12.80 66.00M12.80 66.00L26.30 66.90M26.30 66.90L31.20 54.50M31.20 54.50L41.40 45.40M22.70 57.40L15.80 58.40M15.80 58.40L11.23 56.42M12.80 66.00L7.60 68.08M31.20 54.50L36.48 58.30M43.07 61.74L48.20 63.60M47.65 63.62L47.86 68.72M48.75 63.58L48.96 68.68M48.20 63.60L54.30 60.00M26.30 66.90L24.16 70.80" stroke="#262626" stroke-width="0.68" fill="none" stroke-linecap="round"/><path d="M41.40 45.40L29.84 44.72" stroke="#262626" stroke-width="1.22" fill="none" stroke-linecap="round"/><path d="M76.80 46.10L80.00 53.70M80.00 53.70L101.60 53.70M101.60 53.70L105.10 46.10" stroke="#111" stroke-width="2.03" fill="none" stroke-linecap="round" stroke-linejoin="round"/><text transform="translate(103.16 9.92) scale(0.5000 0.5000)" font-size="10" fill="#262626" stroke="#262626" stroke-width="0.600" stroke-linejoin="round">O</text><text transform="translate(103.29 35.52) scale(0.5000 0.5000)" font-size="10" fill="#262626" stroke="#262626" stroke-width="0.600" stroke-linejoin="round">N</text><text transform="translate(92.29 22.92) scale(0.5000 0.5000)" font-size="10" fill="#262626" stroke="#262626" stroke-width="0.600" stroke-linejoin="round">HN</text><text transform="translate(87.46 35.52) scale(0.5000 0.5000)" font-size="10" fill="#262626" stroke="#262626" stroke-width="0.600" stroke-linejoin="round">O</text><text transform="translate(87.96 43.32) scale(0.5000 0.5000)" font-size="10" fill="#262626" stroke="#262626" stroke-width="0.600" stroke-linejoin="round">O</text><text transform="translate(77.85 62.12) scale(0.5000 0.5000)" font-size="10" fill="#262626" stroke="#262626" stroke-width="0.600" stroke-linejoin="round">OH</text><text transform="translate(98.65 62.12) scale(0.5000 0.5000)" font-size="10" fill="#262626" stroke="#262626" stroke-width="0.600" stroke-linejoin="round">OH</text><text transform="translate(74.36 40.02) scale(0.5000 0.5000)" font-size="10" fill="#262626" stroke="#262626" stroke-width="0.600" stroke-linejoin="round">O</text><text transform="translate(64.03 40.02) scale(0.5000 0.5000)" font-size="10" fill="#262626" stroke="#262626" stroke-width="0.600" stroke-linejoin="round">P</text><text transform="translate(63.76 33.12) scale(0.5000 0.5000)" font-size="10" fill="#262626" stroke="#262626" stroke-width="0.600" stroke-linejoin="round">O</text><text transform="translate(67.74 30.65) scale(0.3000 0.3000)" font-size="10" fill="#262626" stroke="#262626" stroke-width="1.000" stroke-linejoin="round">-</text><text transform="translate(63.76 46.82) scale(0.5000 0.5000)" font-size="10" fill="#262626" stroke="#262626" stroke-width="0.600" stroke-linejoin="round">O</text><text transform="translate(56.46 40.02) scale(0.5000 0.5000)" font-size="10" fill="#262626" stroke="#262626" stroke-width="0.600" stroke-linejoin="round">O</text><text transform="translate(49.43 40.02) scale(0.5000 0.5000)" font-size="10" fill="#262626" stroke="#262626" stroke-width="0.600" stroke-linejoin="round">P</text><text transform="translate(49.16 33.12) scale(0.5000 0.5000)" font-size="10" fill="#262626" stroke="#262626" stroke-width="0.600" stroke-linejoin="round">O</text><text transform="translate(53.14 30.65) scale(0.3000 0.3000)" font-size="10" fill="#262626" stroke="#262626" stroke-width="1.000" stroke-linejoin="round">-</text><text transform="translate(49.16 46.82) scale(0.5000 0.5000)" font-size="10" fill="#262626" stroke="#262626" stroke-width="0.600" stroke-linejoin="round">O</text><text transform="translate(40.26 40.02) scale(0.5000 0.5000)" font-size="10" fill="#262626" stroke="#262626" stroke-width="0.600" stroke-linejoin="round">O</text><text transform="translate(25.76 46.32) scale(0.5000 0.5000)" font-size="10" fill="#262626" stroke="#262626" stroke-width="0.600" stroke-linejoin="round">O</text><text transform="translate(3.75 56.52) scale(0.5000 0.5000)" font-size="10" fill="#262626" stroke="#262626" stroke-width="0.600" stroke-linejoin="round">HO</text><text transform="translate(0.05 71.32) scale(0.5000 0.5000)" font-size="10" fill="#262626" stroke="#262626" stroke-width="0.600" stroke-linejoin="round">HO</text><text transform="translate(35.79 62.12) scale(0.5000 0.5000)" font-size="10" fill="#262626" stroke="#262626" stroke-width="0.600" stroke-linejoin="round">HN</text><text transform="translate(46.56 72.52) scale(0.5000 0.5000)" font-size="10" fill="#262626" stroke="#262626" stroke-width="0.600" stroke-linejoin="round">O</text><text transform="translate(21.06 74.62) scale(0.5000 0.5000)" font-size="10" fill="#262626" stroke="#262626" stroke-width="0.600" stroke-linejoin="round">O</text></g>
<path d="M237.30 415.40L230.94 416.71M237.30 415.40L243.30 420.30M243.46 420.82L247.90 419.44M243.14 419.78L247.58 418.39M243.30 420.30L245.83 424.41M250.34 426.19L256.50 426.00M256.50 426.00L258.12 421.49M256.50 426.00L256.10 432.30M255.87 431.80L251.83 433.69M256.33 432.80L252.29 434.68M256.10 432.30L261.04 434.59M238.40 413.42L237.30 415.40" stroke="#262626" stroke-width="0.65" fill="none" stroke-linecap="round"/><path d="M256.50 426.00L261.96 426.00" stroke="#262626" stroke-width="1.17" fill="none" stroke-linecap="round"/><text transform="translate(223.43 418.95) scale(0.4500 0.4500)" font-size="10" fill="#262626" stroke="#262626" stroke-width="0.667" stroke-linejoin="round">H₃C</text><text transform="translate(247.95 419.85) scale(0.4500 0.4500)" font-size="10" fill="#262626" stroke="#262626" stroke-width="0.667" stroke-linejoin="round">O</text><text transform="translate(243.75 427.85) scale(0.4500 0.4500)" font-size="10" fill="#262626" stroke="#262626" stroke-width="0.667" stroke-linejoin="round">HN</text><text transform="translate(254.63 421.15) scale(0.4500 0.4500)" font-size="10" fill="#262626" stroke="#262626" stroke-width="0.667" stroke-linejoin="round">CH₃</text><text transform="translate(262.18 427.55) scale(0.4500 0.4500)" font-size="10" fill="#262626" stroke="#262626" stroke-width="0.667" stroke-linejoin="round">H</text><text transform="translate(248.35 436.65) scale(0.4500 0.4500)" font-size="10" fill="#262626" stroke="#262626" stroke-width="0.667" stroke-linejoin="round">O</text><text transform="translate(261.25 437.05) scale(0.4500 0.4500)" font-size="10" fill="#262626" stroke="#262626" stroke-width="0.667" stroke-linejoin="round">O</text><text transform="translate(264.85 434.82) scale(0.2700 0.2700)" font-size="10" fill="#262626" stroke="#262626" stroke-width="1.111" stroke-linejoin="round">-</text>
<g transform="translate(261.30 506.10) scale(1.0300 0.7840)"><path d="M105.65 16.40L105.65 10.30M104.55 16.40L104.55 10.30M105.10 16.40L112.10 20.40M112.10 20.40L112.10 28.60M110.89 21.63L110.89 27.37M112.10 28.60L107.11 32.31M103.09 32.26L98.30 28.60M98.30 28.60L96.58 23.30M99.57 19.28L105.10 16.40M98.02 28.13L91.26 32.08M98.58 29.07L91.82 33.03M105.10 35.90L105.10 46.10M105.10 46.10L92.04 42.23M87.76 42.33L76.80 46.10M80.00 53.70L81.10 58.30M101.60 53.70L102.15 58.30M76.80 46.10L76.43 40.40M74.16 38.30L67.58 38.30M65.70 36.20L65.70 33.50M65.15 40.40L65.15 43.00M66.25 40.40L66.25 43.00M63.82 38.30L60.54 38.30M56.26 38.30L52.98 38.30M51.10 36.20L51.10 33.50M50.55 40.40L50.55 43.00M51.65 40.40L51.65 43.00M49.22 38.30L44.34 38.30M41.96 40.40L41.40 45.40M26.88 46.70L22.70 57.40M22.70 57.40L12.80 66.00M12.80 66.00L26.30 66.90M26.30 66.90L31.20 54.50M31.20 54.50L41.40 45.40M22.70 57.40L15.80 58.40M15.80 58.40L11.23 56.42M12.80 66.00L7.60 68.08M31.20 54.50L36.48 58.30M43.07 61.74L48.20 63.60M47.65 63.62L47.86 68.72M48.75 63.58L48.96 68.68M48.20 63.60L54.30 60.00M26.30 66.90L24.16 70.80" stroke="#262626" stroke-width="0.72" fill="none" stroke-linecap="round"/><path d="M41.40 45.40L29.84 44.72" stroke="#262626" stroke-width="1.29" fill="none" stroke-linecap="round"/><path d="M76.80 46.10L80.00 53.70M80.00 53.70L101.60 53.70M101.60 53.70L105.10 46.10" stroke="#111" stroke-width="2.15" fill="none" stroke-linecap="round" stroke-linejoin="round"/><text transform="translate(103.16 9.92) scale(0.5000 0.5000)" font-size="10" fill="#262626" stroke="#262626" stroke-width="0.600" stroke-linejoin="round">O</text><text transform="translate(103.29 35.52) scale(0.5000 0.5000)" font-size="10" fill="#262626" stroke="#262626" stroke-width="0.600" stroke-linejoin="round">N</text><text transform="translate(92.29 22.92) scale(0.5000 0.5000)" font-size="10" fill="#262626" stroke="#262626" stroke-width="0.600" stroke-linejoin="round">HN</text><text transform="translate(87.46 35.52) scale(0.5000 0.5000)" font-size="10" fill="#262626" stroke="#262626" stroke-width="0.600" stroke-linejoin="round">O</text><text transform="translate(87.96 43.32) scale(0.5000 0.5000)" font-size="10" fill="#262626" stroke="#262626" stroke-width="0.600" stroke-linejoin="round">O</text><text transform="translate(77.85 62.12) scale(0.5000 0.5000)" font-size="10" fill="#262626" stroke="#262626" stroke-width="0.600" stroke-linejoin="round">OH</text><text transform="translate(98.65 62.12) scale(0.5000 0.5000)" font-size="10" fill="#262626" stroke="#262626" stroke-width="0.600" stroke-linejoin="round">OH</text><text transform="translate(74.36 40.02) scale(0.5000 0.5000)" font-size="10" fill="#262626" stroke="#262626" stroke-width="0.600" stroke-linejoin="round">O</text><text transform="translate(64.03 40.02) scale(0.5000 0.5000)" font-size="10" fill="#262626" stroke="#262626" stroke-width="0.600" stroke-linejoin="round">P</text><text transform="translate(63.76 33.12) scale(0.5000 0.5000)" font-size="10" fill="#262626" stroke="#262626" stroke-width="0.600" stroke-linejoin="round">O</text><text transform="translate(67.74 30.65) scale(0.3000 0.3000)" font-size="10" fill="#262626" stroke="#262626" stroke-width="1.000" stroke-linejoin="round">-</text><text transform="translate(63.76 46.82) scale(0.5000 0.5000)" font-size="10" fill="#262626" stroke="#262626" stroke-width="0.600" stroke-linejoin="round">O</text><text transform="translate(56.46 40.02) scale(0.5000 0.5000)" font-size="10" fill="#262626" stroke="#262626" stroke-width="0.600" stroke-linejoin="round">O</text><text transform="translate(49.43 40.02) scale(0.5000 0.5000)" font-size="10" fill="#262626" stroke="#262626" stroke-width="0.600" stroke-linejoin="round">P</text><text transform="translate(49.16 33.12) scale(0.5000 0.5000)" font-size="10" fill="#262626" stroke="#262626" stroke-width="0.600" stroke-linejoin="round">O</text><text transform="translate(53.14 30.65) scale(0.3000 0.3000)" font-size="10" fill="#262626" stroke="#262626" stroke-width="1.000" stroke-linejoin="round">-</text><text transform="translate(49.16 46.82) scale(0.5000 0.5000)" font-size="10" fill="#262626" stroke="#262626" stroke-width="0.600" stroke-linejoin="round">O</text><text transform="translate(40.26 40.02) scale(0.5000 0.5000)" font-size="10" fill="#262626" stroke="#262626" stroke-width="0.600" stroke-linejoin="round">O</text><text transform="translate(25.76 46.32) scale(0.5000 0.5000)" font-size="10" fill="#262626" stroke="#262626" stroke-width="0.600" stroke-linejoin="round">O</text><text transform="translate(3.75 56.52) scale(0.5000 0.5000)" font-size="10" fill="#262626" stroke="#262626" stroke-width="0.600" stroke-linejoin="round">HO</text><text transform="translate(0.05 71.32) scale(0.5000 0.5000)" font-size="10" fill="#262626" stroke="#262626" stroke-width="0.600" stroke-linejoin="round">HO</text><text transform="translate(35.79 62.12) scale(0.5000 0.5000)" font-size="10" fill="#262626" stroke="#262626" stroke-width="0.600" stroke-linejoin="round">HN</text><text transform="translate(46.56 72.52) scale(0.5000 0.5000)" font-size="10" fill="#262626" stroke="#262626" stroke-width="0.600" stroke-linejoin="round">O</text><text transform="translate(21.06 74.62) scale(0.5000 0.5000)" font-size="10" fill="#262626" stroke="#262626" stroke-width="0.600" stroke-linejoin="round">O</text></g>
<path d="M285.08 564.65L284.20 566.80M284.20 566.80L277.01 568.04M284.20 566.80L290.20 570.00M290.29 570.54L294.40 569.86M290.11 569.46L294.22 568.77M290.20 570.00L292.42 573.69M296.71 575.43L302.80 575.30M302.80 575.30L304.88 572.21M302.80 575.30L302.80 581.00M302.55 580.51L298.44 582.64M303.05 581.49L298.94 583.61M302.80 581.00L307.79 583.01M310.64 586.11L309.90 589.80M309.90 589.80L303.30 592.50M302.75 592.50L302.75 595.79M303.85 592.50L303.85 595.79M303.30 592.50L292.81 590.43M309.90 589.80L315.40 592.50M315.40 592.50L322.00 589.80M322.00 589.80L328.00 592.50M327.45 592.50L327.45 595.79M328.55 592.50L328.55 595.79M328.00 592.50L332.11 590.65" stroke="#262626" stroke-width="0.65" fill="none" stroke-linecap="round"/><path d="M302.80 575.30L309.22 575.30" stroke="#262626" stroke-width="1.17" fill="none" stroke-linecap="round"/><text transform="translate(269.82 570.08) scale(0.4300 0.4300)" font-size="10" fill="#262626" stroke="#262626" stroke-width="0.698" stroke-linejoin="round">H₃C</text><text transform="translate(294.53 570.48) scale(0.4300 0.4300)" font-size="10" fill="#262626" stroke="#262626" stroke-width="0.698" stroke-linejoin="round">O</text><text transform="translate(290.39 576.98) scale(0.4300 0.4300)" font-size="10" fill="#262626" stroke="#262626" stroke-width="0.698" stroke-linejoin="round">HN</text><text transform="translate(302.12 571.88) scale(0.4300 0.4300)" font-size="10" fill="#262626" stroke="#262626" stroke-width="0.698" stroke-linejoin="round">CH₃</text><text transform="translate(309.45 576.78) scale(0.4300 0.4300)" font-size="10" fill="#262626" stroke="#262626" stroke-width="0.698" stroke-linejoin="round">H</text><text transform="translate(295.13 585.58) scale(0.4300 0.4300)" font-size="10" fill="#262626" stroke="#262626" stroke-width="0.698" stroke-linejoin="round">O</text><text transform="translate(307.89 585.78) scale(0.4300 0.4300)" font-size="10" fill="#262626" stroke="#262626" stroke-width="0.698" stroke-linejoin="round">NH</text><text transform="translate(301.63 599.08) scale(0.4300 0.4300)" font-size="10" fill="#262626" stroke="#262626" stroke-width="0.698" stroke-linejoin="round">O</text><text transform="translate(285.62 591.28) scale(0.4300 0.4300)" font-size="10" fill="#262626" stroke="#262626" stroke-width="0.698" stroke-linejoin="round">NH₃</text><text transform="translate(293.68 589.15) scale(0.2580 0.2580)" font-size="10" fill="#262626" stroke="#262626" stroke-width="1.163" stroke-linejoin="round">+</text><text transform="translate(326.33 599.08) scale(0.4300 0.4300)" font-size="10" fill="#262626" stroke="#262626" stroke-width="0.698" stroke-linejoin="round">O</text><text transform="translate(332.33 591.28) scale(0.4300 0.4300)" font-size="10" fill="#262626" stroke="#262626" stroke-width="0.698" stroke-linejoin="round">O</text><text transform="translate(335.77 589.15) scale(0.2580 0.2580)" font-size="10" fill="#262626" stroke="#262626" stroke-width="1.163" stroke-linejoin="round">-</text>
<g transform="translate(376.50 636.30) scale(1.0280 0.9230)"><path d="M105.65 16.40L105.65 10.30M104.55 16.40L104.55 10.30M105.10 16.40L112.10 20.40M112.10 20.40L112.10 28.60M110.89 21.63L110.89 27.37M112.10 28.60L107.11 32.31M103.09 32.26L98.30 28.60M98.30 28.60L96.58 23.30M99.57 19.28L105.10 16.40M98.02 28.13L91.26 32.08M98.58 29.07L91.82 33.03M105.10 35.90L105.10 46.10M105.10 46.10L92.04 42.23M87.76 42.33L76.80 46.10M80.00 53.70L81.10 58.30M101.60 53.70L102.15 58.30M76.80 46.10L76.43 40.40M74.16 38.30L67.58 38.30M65.70 36.20L65.70 33.50M65.15 40.40L65.15 43.00M66.25 40.40L66.25 43.00M63.82 38.30L60.54 38.30M56.26 38.30L52.98 38.30M51.10 36.20L51.10 33.50M50.55 40.40L50.55 43.00M51.65 40.40L51.65 43.00M49.22 38.30L44.34 38.30M41.96 40.40L41.40 45.40M26.88 46.70L22.70 57.40M22.70 57.40L12.80 66.00M12.80 66.00L26.30 66.90M26.30 66.90L31.20 54.50M31.20 54.50L41.40 45.40M22.70 57.40L15.80 58.40M15.80 58.40L11.23 56.42M12.80 66.00L7.60 68.08M31.20 54.50L36.48 58.30M43.07 61.74L48.20 63.60M47.65 63.62L47.86 68.72M48.75 63.58L48.96 68.68M48.20 63.60L54.30 60.00M26.30 66.90L24.16 70.80" stroke="#262626" stroke-width="0.67" fill="none" stroke-linecap="round"/><path d="M41.40 45.40L29.84 44.72" stroke="#262626" stroke-width="1.20" fill="none" stroke-linecap="round"/><path d="M76.80 46.10L80.00 53.70M80.00 53.70L101.60 53.70M101.60 53.70L105.10 46.10" stroke="#111" stroke-width="2.00" fill="none" stroke-linecap="round" stroke-linejoin="round"/><text transform="translate(103.16 9.92) scale(0.5000 0.5000)" font-size="10" fill="#262626" stroke="#262626" stroke-width="0.600" stroke-linejoin="round">O</text><text transform="translate(103.29 35.52) scale(0.5000 0.5000)" font-size="10" fill="#262626" stroke="#262626" stroke-width="0.600" stroke-linejoin="round">N</text><text transform="translate(92.29 22.92) scale(0.5000 0.5000)" font-size="10" fill="#262626" stroke="#262626" stroke-width="0.600" stroke-linejoin="round">HN</text><text transform="translate(87.46 35.52) scale(0.5000 0.5000)" font-size="10" fill="#262626" stroke="#262626" stroke-width="0.600" stroke-linejoin="round">O</text><text transform="translate(87.96 43.32) scale(0.5000 0.5000)" font-size="10" fill="#262626" stroke="#262626" stroke-width="0.600" stroke-linejoin="round">O</text><text transform="translate(77.85 62.12) scale(0.5000 0.5000)" font-size="10" fill="#262626" stroke="#262626" stroke-width="0.600" stroke-linejoin="round">OH</text><text transform="translate(98.65 62.12) scale(0.5000 0.5000)" font-size="10" fill="#262626" stroke="#262626" stroke-width="0.600" stroke-linejoin="round">OH</text><text transform="translate(74.36 40.02) scale(0.5000 0.5000)" font-size="10" fill="#262626" stroke="#262626" stroke-width="0.600" stroke-linejoin="round">O</text><text transform="translate(64.03 40.02) scale(0.5000 0.5000)" font-size="10" fill="#262626" stroke="#262626" stroke-width="0.600" stroke-linejoin="round">P</text><text transform="translate(63.76 33.12) scale(0.5000 0.5000)" font-size="10" fill="#262626" stroke="#262626" stroke-width="0.600" stroke-linejoin="round">O</text><text transform="translate(67.74 30.65) scale(0.3000 0.3000)" font-size="10" fill="#262626" stroke="#262626" stroke-width="1.000" stroke-linejoin="round">-</text><text transform="translate(63.76 46.82) scale(0.5000 0.5000)" font-size="10" fill="#262626" stroke="#262626" stroke-width="0.600" stroke-linejoin="round">O</text><text transform="translate(56.46 40.02) scale(0.5000 0.5000)" font-size="10" fill="#262626" stroke="#262626" stroke-width="0.600" stroke-linejoin="round">O</text><text transform="translate(49.43 40.02) scale(0.5000 0.5000)" font-size="10" fill="#262626" stroke="#262626" stroke-width="0.600" stroke-linejoin="round">P</text><text transform="translate(49.16 33.12) scale(0.5000 0.5000)" font-size="10" fill="#262626" stroke="#262626" stroke-width="0.600" stroke-linejoin="round">O</text><text transform="translate(53.14 30.65) scale(0.3000 0.3000)" font-size="10" fill="#262626" stroke="#262626" stroke-width="1.000" stroke-linejoin="round">-</text><text transform="translate(49.16 46.82) scale(0.5000 0.5000)" font-size="10" fill="#262626" stroke="#262626" stroke-width="0.600" stroke-linejoin="round">O</text><text transform="translate(40.26 40.02) scale(0.5000 0.5000)" font-size="10" fill="#262626" stroke="#262626" stroke-width="0.600" stroke-linejoin="round">O</text><text transform="translate(25.76 46.32) scale(0.5000 0.5000)" font-size="10" fill="#262626" stroke="#262626" stroke-width="0.600" stroke-linejoin="round">O</text><text transform="translate(3.75 56.52) scale(0.5000 0.5000)" font-size="10" fill="#262626" stroke="#262626" stroke-width="0.600" stroke-linejoin="round">HO</text><text transform="translate(0.05 71.32) scale(0.5000 0.5000)" font-size="10" fill="#262626" stroke="#262626" stroke-width="0.600" stroke-linejoin="round">HO</text><text transform="translate(35.79 62.12) scale(0.5000 0.5000)" font-size="10" fill="#262626" stroke="#262626" stroke-width="0.600" stroke-linejoin="round">HN</text><text transform="translate(46.56 72.52) scale(0.5000 0.5000)" font-size="10" fill="#262626" stroke="#262626" stroke-width="0.600" stroke-linejoin="round">O</text><text transform="translate(21.06 74.62) scale(0.5000 0.5000)" font-size="10" fill="#262626" stroke="#262626" stroke-width="0.600" stroke-linejoin="round">O</text></g>
<path d="M400.83 705.95L399.90 708.20M399.90 708.20L392.64 709.36M399.90 708.20L405.10 711.70M405.15 712.25L409.59 711.83M405.05 711.15L409.49 710.74M405.10 711.70L407.66 716.81M411.94 718.63L418.50 718.50M418.50 718.50L420.59 714.19M418.50 718.50L418.50 725.10M418.25 724.61L414.41 726.53M418.75 725.59L414.91 727.51M418.50 725.10L424.56 727.36M427.32 730.49L426.10 734.50M426.10 734.50L418.50 738.50M417.95 738.50L417.95 742.71M419.05 738.50L419.05 742.71M418.50 738.50L407.84 735.83M426.10 734.50L431.50 738.00M431.50 738.00L437.50 735.50M437.50 735.50L443.60 738.50M443.05 738.50L443.05 742.71M444.15 738.50L444.15 742.71M443.60 738.50L448.74 736.40M401.16 733.74L395.20 731.50M395.20 731.50L399.30 725.10M399.19 725.64L404.83 726.75M399.41 724.56L405.05 725.67M399.30 725.10L397.70 722.85M395.20 731.50L396.40 738.50M396.40 738.50L394.00 744.40M394.00 744.40L396.90 749.00M396.90 749.00L395.20 753.70M395.20 753.70L402.36 751.72M395.20 753.70L400.40 759.00M400.35 759.55L404.89 759.97M400.45 758.45L404.99 758.87M400.40 759.00L397.85 762.31" stroke="#262626" stroke-width="0.65" fill="none" stroke-linecap="round"/><path d="M418.50 718.50L424.86 718.50M395.20 731.50L391.74 729.61M395.20 753.70L391.74 755.98" stroke="#262626" stroke-width="1.17" fill="none" stroke-linecap="round"/><text transform="translate(385.13 711.45) scale(0.4500 0.4500)" font-size="10" fill="#262626" stroke="#262626" stroke-width="0.667" stroke-linejoin="round">H₃C</text><text transform="translate(409.75 712.65) scale(0.4500 0.4500)" font-size="10" fill="#262626" stroke="#262626" stroke-width="0.667" stroke-linejoin="round">O</text><text transform="translate(405.35 720.25) scale(0.4500 0.4500)" font-size="10" fill="#262626" stroke="#262626" stroke-width="0.667" stroke-linejoin="round">HN</text><text transform="translate(417.33 713.85) scale(0.4500 0.4500)" font-size="10" fill="#262626" stroke="#262626" stroke-width="0.667" stroke-linejoin="round">CH₃</text><text transform="translate(425.08 720.05) scale(0.4500 0.4500)" font-size="10" fill="#262626" stroke="#262626" stroke-width="0.667" stroke-linejoin="round">H</text><text transform="translate(410.95 729.55) scale(0.4500 0.4500)" font-size="10" fill="#262626" stroke="#262626" stroke-width="0.667" stroke-linejoin="round">O</text><text transform="translate(424.65 730.15) scale(0.4500 0.4500)" font-size="10" fill="#262626" stroke="#262626" stroke-width="0.667" stroke-linejoin="round">NH</text><text transform="translate(416.75 746.15) scale(0.4500 0.4500)" font-size="10" fill="#262626" stroke="#262626" stroke-width="0.667" stroke-linejoin="round">O</text><text transform="translate(401.25 736.55) scale(0.4500 0.4500)" font-size="10" fill="#262626" stroke="#262626" stroke-width="0.667" stroke-linejoin="round">NH</text><text transform="translate(441.85 746.15) scale(0.4500 0.4500)" font-size="10" fill="#262626" stroke="#262626" stroke-width="0.667" stroke-linejoin="round">O</text><text transform="translate(448.95 737.15) scale(0.4500 0.4500)" font-size="10" fill="#262626" stroke="#262626" stroke-width="0.667" stroke-linejoin="round">O</text><text transform="translate(452.55 734.93) scale(0.2700 0.2700)" font-size="10" fill="#262626" stroke="#262626" stroke-width="1.111" stroke-linejoin="round">-</text><text transform="translate(388.28 730.15) scale(0.4500 0.4500)" font-size="10" fill="#262626" stroke="#262626" stroke-width="0.667" stroke-linejoin="round">H</text><text transform="translate(405.15 728.15) scale(0.4500 0.4500)" font-size="10" fill="#262626" stroke="#262626" stroke-width="0.667" stroke-linejoin="round">O</text><text transform="translate(394.65 722.55) scale(0.4500 0.4500)" font-size="10" fill="#262626" stroke="#262626" stroke-width="0.667" stroke-linejoin="round">O</text><text transform="translate(398.25 720.33) scale(0.2700 0.2700)" font-size="10" fill="#262626" stroke="#262626" stroke-width="1.111" stroke-linejoin="round">-</text><text transform="translate(401.53 752.35) scale(0.4500 0.4500)" font-size="10" fill="#262626" stroke="#262626" stroke-width="0.667" stroke-linejoin="round">NH₃</text><text transform="translate(409.97 750.12) scale(0.2700 0.2700)" font-size="10" fill="#262626" stroke="#262626" stroke-width="1.111" stroke-linejoin="round">+</text><text transform="translate(388.28 758.75) scale(0.4500 0.4500)" font-size="10" fill="#262626" stroke="#262626" stroke-width="0.667" stroke-linejoin="round">H</text><text transform="translate(405.15 761.15) scale(0.4500 0.4500)" font-size="10" fill="#262626" stroke="#262626" stroke-width="0.667" stroke-linejoin="round">O</text><text transform="translate(394.65 765.75) scale(0.4500 0.4500)" font-size="10" fill="#262626" stroke="#262626" stroke-width="0.667" stroke-linejoin="round">O</text><text transform="translate(398.25 763.53) scale(0.2700 0.2700)" font-size="10" fill="#262626" stroke="#262626" stroke-width="1.111" stroke-linejoin="round">-</text>
<g transform="translate(490.10 798.30) scale(0.8180 0.7040)"><path d="M105.65 16.40L105.65 10.38M104.55 16.40L104.55 10.38M105.10 16.40L112.10 20.40M112.10 20.40L112.10 28.60M110.89 21.63L110.89 27.37M112.10 28.60L107.18 32.26M103.02 32.21L98.30 28.60M98.30 28.60L96.61 23.38M99.70 19.21L105.10 16.40M98.02 28.13L91.33 32.03M98.58 29.07L91.89 32.98M105.10 35.98L105.10 46.10M105.10 46.10L92.11 42.25M87.69 42.36L76.80 46.10M80.00 53.70L81.08 58.22M101.60 53.70L102.14 58.22M76.80 46.10L76.44 40.48M74.09 38.30L67.65 38.30M65.70 36.12L65.70 33.58M65.15 40.48L65.15 42.92M66.25 40.48L66.25 42.92M63.75 38.30L60.61 38.30M56.19 38.30L53.05 38.30M51.10 36.12L51.10 33.58M50.55 40.48L50.55 42.92M51.65 40.48L51.65 42.92M49.15 38.30L44.41 38.30M41.95 40.48L41.40 45.40M26.85 46.78L22.70 57.40M22.70 57.40L12.80 66.00M12.80 66.00L26.30 66.90M26.30 66.90L31.20 54.50M31.20 54.50L41.40 45.40M22.70 57.40L15.80 58.40M15.80 58.40L11.23 56.42M12.80 66.00L7.74 68.02M31.20 54.50L36.36 58.22M43.20 61.78L48.20 63.60M47.65 63.62L47.86 68.64M48.75 63.58L48.96 68.59M48.20 63.60L54.30 60.00M26.30 66.90L24.20 70.72" stroke="#262626" stroke-width="0.85" fill="none" stroke-linecap="round"/><path d="M41.40 45.40L29.91 44.73" stroke="#262626" stroke-width="1.54" fill="none" stroke-linecap="round"/><path d="M76.80 46.10L80.00 53.70M80.00 53.70L101.60 53.70M101.60 53.70L105.10 46.10" stroke="#111" stroke-width="2.56" fill="none" stroke-linecap="round" stroke-linejoin="round"/><text transform="translate(103.08 9.99) scale(0.5200 0.5200)" font-size="10" fill="#3a3a3a" stroke="#3a3a3a" stroke-width="0.231" stroke-linejoin="round">O</text><text transform="translate(103.22 35.59) scale(0.5200 0.5200)" font-size="10" fill="#3a3a3a" stroke="#3a3a3a" stroke-width="0.231" stroke-linejoin="round">N</text><text transform="translate(92.14 22.99) scale(0.5200 0.5200)" font-size="10" fill="#3a3a3a" stroke="#3a3a3a" stroke-width="0.231" stroke-linejoin="round">HN</text><text transform="translate(87.38 35.59) scale(0.5200 0.5200)" font-size="10" fill="#3a3a3a" stroke="#3a3a3a" stroke-width="0.231" stroke-linejoin="round">O</text><text transform="translate(87.88 43.39) scale(0.5200 0.5200)" font-size="10" fill="#3a3a3a" stroke="#3a3a3a" stroke-width="0.231" stroke-linejoin="round">O</text><text transform="translate(77.70 62.19) scale(0.5200 0.5200)" font-size="10" fill="#3a3a3a" stroke="#3a3a3a" stroke-width="0.231" stroke-linejoin="round">OH</text><text transform="translate(98.50 62.19) scale(0.5200 0.5200)" font-size="10" fill="#3a3a3a" stroke="#3a3a3a" stroke-width="0.231" stroke-linejoin="round">OH</text><text transform="translate(74.28 40.09) scale(0.5200 0.5200)" font-size="10" fill="#3a3a3a" stroke="#3a3a3a" stroke-width="0.231" stroke-linejoin="round">O</text><text transform="translate(63.97 40.09) scale(0.5200 0.5200)" font-size="10" fill="#3a3a3a" stroke="#3a3a3a" stroke-width="0.231" stroke-linejoin="round">P</text><text transform="translate(63.68 33.19) scale(0.5200 0.5200)" font-size="10" fill="#3a3a3a" stroke="#3a3a3a" stroke-width="0.231" stroke-linejoin="round">O</text><text transform="translate(67.82 30.62) scale(0.3120 0.3120)" font-size="10" fill="#3a3a3a" stroke="#3a3a3a" stroke-width="0.385" stroke-linejoin="round">-</text><text transform="translate(63.68 46.89) scale(0.5200 0.5200)" font-size="10" fill="#3a3a3a" stroke="#3a3a3a" stroke-width="0.231" stroke-linejoin="round">O</text><text transform="translate(56.38 40.09) scale(0.5200 0.5200)" font-size="10" fill="#3a3a3a" stroke="#3a3a3a" stroke-width="0.231" stroke-linejoin="round">O</text><text transform="translate(49.37 40.09) scale(0.5200 0.5200)" font-size="10" fill="#3a3a3a" stroke="#3a3a3a" stroke-width="0.231" stroke-linejoin="round">P</text><text transform="translate(49.08 33.19) scale(0.5200 0.5200)" font-size="10" fill="#3a3a3a" stroke="#3a3a3a" stroke-width="0.231" stroke-linejoin="round">O</text><text transform="translate(53.22 30.62) scale(0.3120 0.3120)" font-size="10" fill="#3a3a3a" stroke="#3a3a3a" stroke-width="0.385" stroke-linejoin="round">-</text><text transform="translate(49.08 46.89) scale(0.5200 0.5200)" font-size="10" fill="#3a3a3a" stroke="#3a3a3a" stroke-width="0.231" stroke-linejoin="round">O</text><text transform="translate(40.18 40.09) scale(0.5200 0.5200)" font-size="10" fill="#3a3a3a" stroke="#3a3a3a" stroke-width="0.231" stroke-linejoin="round">O</text><text transform="translate(25.68 46.39) scale(0.5200 0.5200)" font-size="10" fill="#3a3a3a" stroke="#3a3a3a" stroke-width="0.231" stroke-linejoin="round">O</text><text transform="translate(3.60 56.59) scale(0.5200 0.5200)" font-size="10" fill="#3a3a3a" stroke="#3a3a3a" stroke-width="0.231" stroke-linejoin="round">HO</text><text transform="translate(-0.10 71.39) scale(0.5200 0.5200)" font-size="10" fill="#3a3a3a" stroke="#3a3a3a" stroke-width="0.231" stroke-linejoin="round">HO</text><text transform="translate(35.64 62.19) scale(0.5200 0.5200)" font-size="10" fill="#3a3a3a" stroke="#3a3a3a" stroke-width="0.231" stroke-linejoin="round">HN</text><text transform="translate(46.48 72.59) scale(0.5200 0.5200)" font-size="10" fill="#3a3a3a" stroke="#3a3a3a" stroke-width="0.231" stroke-linejoin="round">O</text><text transform="translate(20.98 74.69) scale(0.5200 0.5200)" font-size="10" fill="#3a3a3a" stroke="#3a3a3a" stroke-width="0.231" stroke-linejoin="round">O</text></g>
<path d="M508.49 850.35L507.50 852.00M507.50 852.00L502.11 853.58M507.50 852.00L512.00 855.50M512.08 856.04L515.81 855.49M511.92 854.96L515.65 854.40M512.00 855.50L515.01 859.15M519.11 860.70L524.00 860.70M524.00 860.70L524.70 857.15M524.00 860.70L524.00 865.50M523.78 865.00L519.46 866.87M524.22 866.00L519.89 867.88M524.00 865.50L527.13 866.93M529.32 869.65L528.50 873.00M528.50 873.00L523.30 875.50M522.75 875.50L522.75 879.05M523.85 875.50L523.85 879.05M523.30 875.50L515.61 873.96M528.50 873.00L533.00 876.00M533.00 876.00L538.00 873.40M538.00 873.40L543.70 876.00M543.15 876.00L543.15 879.05M544.25 876.00L544.25 879.05M543.70 876.00L547.33 874.22M509.99 872.08L504.50 869.50M504.50 869.50L508.50 865.50M508.33 866.02L512.05 867.26M508.67 864.98L512.40 866.22M508.50 865.50L506.67 863.55M504.50 869.50L505.50 876.00M505.50 876.00L503.50 880.50M503.50 880.50L506.00 885.00M506.00 885.00L504.50 889.00M504.50 889.00L509.99 886.22M504.50 889.00L509.00 891.50M509.04 892.05L512.27 891.78M508.96 890.95L512.18 890.69M509.00 891.50L510.37 894.85M513.81 896.40L518.50 896.40M518.50 896.40L521.04 892.65M518.50 896.40L518.50 900.50M518.46 899.95L515.54 900.14M518.54 901.05L515.61 901.24M518.50 900.50L521.93 907.45M525.09 909.00L528.00 909.00M528.00 909.00L530.00 905.55M528.00 909.00L527.50 913.50M527.21 913.97L529.53 915.42M527.79 913.03L530.12 914.49M527.50 913.50L524.97 915.00" stroke="#262626" stroke-width="0.45" fill="none" stroke-linecap="round"/><path d="M524.00 860.70L528.12 860.70M504.50 869.50L502.08 868.89M504.50 889.00L502.08 889.42M518.50 896.40L523.42 896.40M528.00 909.00L531.02 909.00" stroke="#262626" stroke-width="0.81" fill="none" stroke-linecap="round"/><text transform="translate(495.87 855.67) scale(0.3700 0.3700)" font-size="10" fill="#3a3a3a" stroke="#3a3a3a" stroke-width="0.324" stroke-linejoin="round">H₃C</text><text transform="translate(515.96 855.97) scale(0.3700 0.3700)" font-size="10" fill="#3a3a3a" stroke="#3a3a3a" stroke-width="0.324" stroke-linejoin="round">O</text><text transform="translate(513.63 861.97) scale(0.3700 0.3700)" font-size="10" fill="#3a3a3a" stroke="#3a3a3a" stroke-width="0.324" stroke-linejoin="round">HN</text><text transform="translate(521.57 856.87) scale(0.3700 0.3700)" font-size="10" fill="#3a3a3a" stroke="#3a3a3a" stroke-width="0.324" stroke-linejoin="round">CH₃</text><text transform="translate(528.36 861.97) scale(0.3700 0.3700)" font-size="10" fill="#3a3a3a" stroke="#3a3a3a" stroke-width="0.324" stroke-linejoin="round">H</text><text transform="translate(516.56 869.37) scale(0.3700 0.3700)" font-size="10" fill="#3a3a3a" stroke="#3a3a3a" stroke-width="0.324" stroke-linejoin="round">O</text><text transform="translate(527.03 869.37) scale(0.3700 0.3700)" font-size="10" fill="#3a3a3a" stroke="#3a3a3a" stroke-width="0.324" stroke-linejoin="round">NH</text><text transform="translate(521.86 881.87) scale(0.3700 0.3700)" font-size="10" fill="#3a3a3a" stroke="#3a3a3a" stroke-width="0.324" stroke-linejoin="round">O</text><text transform="translate(510.13 874.67) scale(0.3700 0.3700)" font-size="10" fill="#3a3a3a" stroke="#3a3a3a" stroke-width="0.324" stroke-linejoin="round">NH</text><text transform="translate(542.26 881.87) scale(0.3700 0.3700)" font-size="10" fill="#3a3a3a" stroke="#3a3a3a" stroke-width="0.324" stroke-linejoin="round">O</text><text transform="translate(547.56 874.67) scale(0.3700 0.3700)" font-size="10" fill="#3a3a3a" stroke="#3a3a3a" stroke-width="0.324" stroke-linejoin="round">O</text><text transform="translate(550.54 872.85) scale(0.2220 0.2220)" font-size="10" fill="#3a3a3a" stroke="#3a3a3a" stroke-width="0.541" stroke-linejoin="round">-</text><text transform="translate(499.16 869.77) scale(0.3700 0.3700)" font-size="10" fill="#3a3a3a" stroke="#3a3a3a" stroke-width="0.324" stroke-linejoin="round">H</text><text transform="translate(512.46 868.57) scale(0.3700 0.3700)" font-size="10" fill="#3a3a3a" stroke="#3a3a3a" stroke-width="0.324" stroke-linejoin="round">O</text><text transform="translate(503.76 863.27) scale(0.3700 0.3700)" font-size="10" fill="#3a3a3a" stroke="#3a3a3a" stroke-width="0.324" stroke-linejoin="round">O</text><text transform="translate(506.74 861.45) scale(0.2220 0.2220)" font-size="10" fill="#3a3a3a" stroke="#3a3a3a" stroke-width="0.541" stroke-linejoin="round">-</text><text transform="translate(509.37 886.07) scale(0.3700 0.3700)" font-size="10" fill="#3a3a3a" stroke="#3a3a3a" stroke-width="0.324" stroke-linejoin="round">NH₃</text><text transform="translate(516.33 884.25) scale(0.2220 0.2220)" font-size="10" fill="#3a3a3a" stroke="#3a3a3a" stroke-width="0.541" stroke-linejoin="round">+</text><text transform="translate(499.16 890.97) scale(0.3700 0.3700)" font-size="10" fill="#3a3a3a" stroke="#3a3a3a" stroke-width="0.324" stroke-linejoin="round">H</text><text transform="translate(512.46 892.37) scale(0.3700 0.3700)" font-size="10" fill="#3a3a3a" stroke="#3a3a3a" stroke-width="0.324" stroke-linejoin="round">O</text><text transform="translate(508.33 897.67) scale(0.3700 0.3700)" font-size="10" fill="#3a3a3a" stroke="#3a3a3a" stroke-width="0.324" stroke-linejoin="round">HN</text><text transform="translate(518.67 892.37) scale(0.3700 0.3700)" font-size="10" fill="#3a3a3a" stroke="#3a3a3a" stroke-width="0.324" stroke-linejoin="round">CH₃</text><text transform="translate(523.66 897.67) scale(0.3700 0.3700)" font-size="10" fill="#3a3a3a" stroke="#3a3a3a" stroke-width="0.324" stroke-linejoin="round">H</text><text transform="translate(512.46 902.07) scale(0.3700 0.3700)" font-size="10" fill="#3a3a3a" stroke="#3a3a3a" stroke-width="0.324" stroke-linejoin="round">O</text><text transform="translate(520.03 910.27) scale(0.3700 0.3700)" font-size="10" fill="#3a3a3a" stroke="#3a3a3a" stroke-width="0.324" stroke-linejoin="round">NH</text><text transform="translate(527.47 905.27) scale(0.3700 0.3700)" font-size="10" fill="#3a3a3a" stroke="#3a3a3a" stroke-width="0.324" stroke-linejoin="round">CH₃</text><text transform="translate(531.26 910.27) scale(0.3700 0.3700)" font-size="10" fill="#3a3a3a" stroke="#3a3a3a" stroke-width="0.324" stroke-linejoin="round">H</text><text transform="translate(530.06 917.27) scale(0.3700 0.3700)" font-size="10" fill="#3a3a3a" stroke="#3a3a3a" stroke-width="0.324" stroke-linejoin="round">O</text><text transform="translate(521.86 917.27) scale(0.3700 0.3700)" font-size="10" fill="#3a3a3a" stroke="#3a3a3a" stroke-width="0.324" stroke-linejoin="round">O</text><text transform="translate(524.84 915.45) scale(0.2220 0.2220)" font-size="10" fill="#3a3a3a" stroke="#3a3a3a" stroke-width="0.541" stroke-linejoin="round">-</text>
<text transform="translate(157.90 40.60) scale(1.1231 0.6000)" font-size="10" fill="#2a2a2a" stroke="#2a2a2a" stroke-width="0.406" stroke-linejoin="round">758.644</text>
<text transform="translate(176.60 198.90) scale(1.1174 0.6000)" font-size="10" fill="#2a2a2a" stroke="#2a2a2a" stroke-width="0.408" stroke-linejoin="round">786.685</text>
<text transform="translate(194.00 362.50) scale(1.1400 0.6000)" font-size="10" fill="#2a2a2a" stroke="#2a2a2a" stroke-width="0.402" stroke-linejoin="round">813.782</text>
<text transform="translate(236.70 532.80) scale(1.1138 0.6000)" font-size="10" fill="#2a2a2a" stroke="#2a2a2a" stroke-width="0.408" stroke-linejoin="round">876.34</text>
<text transform="translate(350.00 663.30) scale(1.1249 0.6000)" font-size="10" fill="#2a2a2a" stroke="#2a2a2a" stroke-width="0.406" stroke-linejoin="round">1051.900</text>
<text transform="translate(444.00 846.10) scale(1.1005 0.6000)" font-size="10" fill="#2a2a2a" stroke="#2a2a2a" stroke-width="0.412" stroke-linejoin="round">1192.499</text>
<text transform="translate(215.00 128.30) scale(0.8686 0.9738)" font-size="10" fill="#b01a2a" font-weight="bold" stroke="#b01a2a" stroke-width="0.163" stroke-linejoin="round">UDP-GlcNAc enolpyruvate</text>
<text transform="translate(245.60 274.40) scale(0.8913 0.9448)" font-size="10" fill="#b01a2a" font-weight="bold" stroke="#b01a2a" stroke-width="0.163" stroke-linejoin="round">UDP-MurNAc</text>
<text transform="translate(278.40 422.60) scale(0.8743 0.9302)" font-size="10" fill="#b01a2a" font-weight="bold" stroke="#b01a2a" stroke-width="0.166" stroke-linejoin="round">UDP-MurNAc – L-Alanine</text>
<text transform="translate(331.10 573.20) scale(0.8851 0.9448)" font-size="10" fill="#b01a2a" font-weight="bold" stroke="#b01a2a" stroke-width="0.164" stroke-linejoin="round">UDP-MurNAc – L-Alanine-D-Glutamate</text>
<text transform="translate(435.80 709.10) scale(0.8879 0.9593)" font-size="10" fill="#b01a2a" font-weight="bold" stroke="#b01a2a" stroke-width="0.162" stroke-linejoin="round">UDP-MurNAc – L-Alanine-D-Glutamate</text>
<text transform="translate(435.80 720.20) scale(0.8655 0.9593)" font-size="10" fill="#b01a2a" font-weight="bold" stroke="#b01a2a" stroke-width="0.164" stroke-linejoin="round">– </text>
<text transform="translate(443.02 720.20) scale(0.8655 0.9593)" font-size="10" fill="#b01a2a" font-weight="bold" font-style="italic" stroke="#b01a2a" stroke-width="0.164" stroke-linejoin="round">meso</text>
<text transform="translate(465.63 720.20) scale(0.8655 0.9593)" font-size="10" fill="#b01a2a" font-weight="bold" stroke="#b01a2a" stroke-width="0.164" stroke-linejoin="round">-Diaminopimelic acid</text>
<text transform="translate(541.60 856.80) scale(0.8971 0.9884)" font-size="10" fill="#b01a2a" font-weight="bold" stroke="#b01a2a" stroke-width="0.159" stroke-linejoin="round">UDP-MurNAc pentapeptide</text>
</svg></body></html>
